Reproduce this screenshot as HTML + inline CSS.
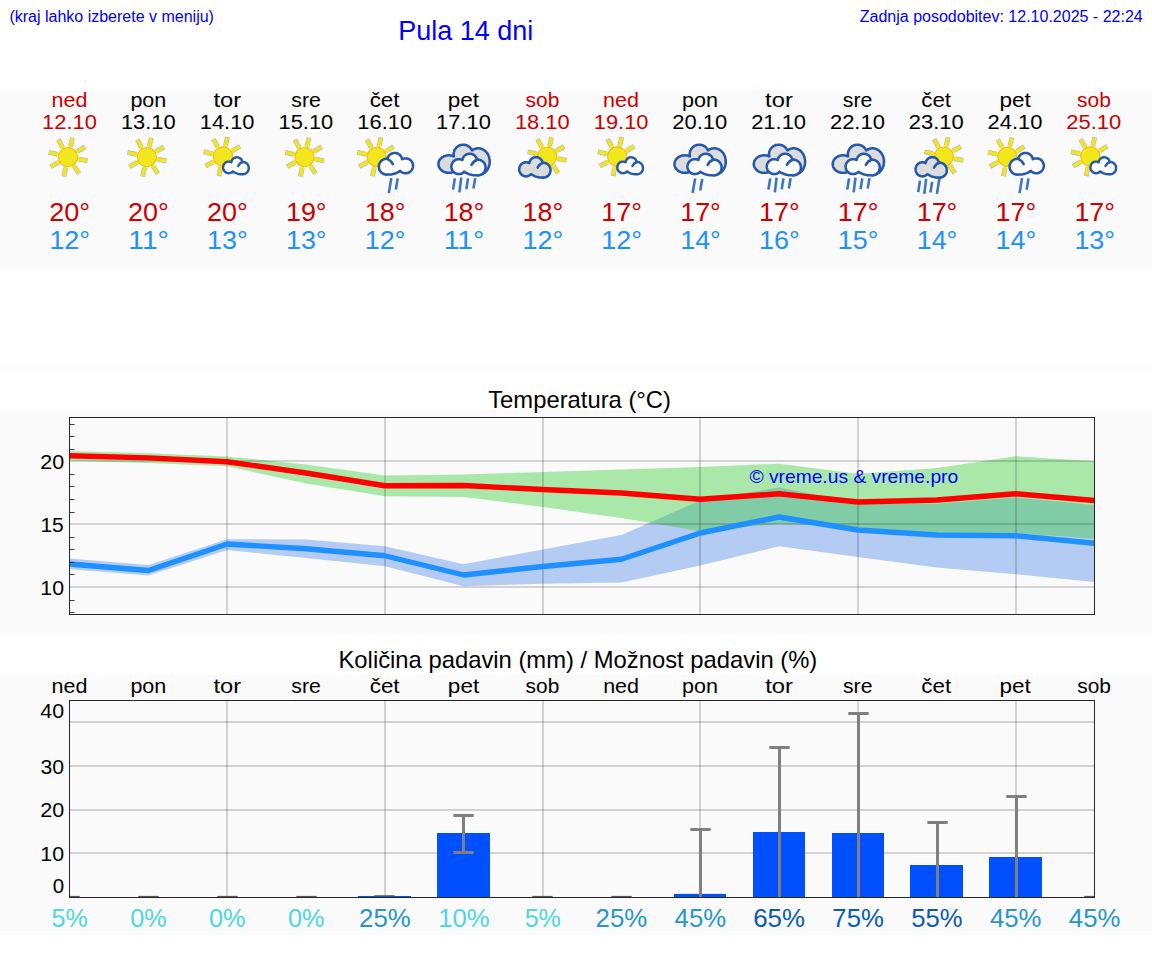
<!DOCTYPE html>
<html lang="sl"><head><meta charset="utf-8"><title>Pula 14 dni</title>
<style>
html,body{margin:0;padding:0;background:#fff;}
body{width:1152px;height:975px;overflow:hidden;font-family:"Liberation Sans",sans-serif;}
svg{display:block;position:absolute;left:0;top:0;}
</style></head><body>
<svg width="1152" height="975" viewBox="0 0 1152 975" font-family="Liberation Sans, sans-serif">
<rect x="0" y="0" width="1152" height="975" fill="#ffffff"/>
<rect x="0" y="90" width="1152" height="180" fill="#fafafa"/>
<rect x="0" y="365" width="1152" height="5" fill="#fafafa"/>
<rect x="0" y="410" width="1152" height="225" fill="#fafafa"/>
<rect x="0" y="675" width="1152" height="260" fill="#fafafa"/>
<text x="9.40" y="21.90" font-size="16" fill="#0000ff" text-anchor="start" >(kraj lahko izberete v meniju)</text>
<text x="465.70" y="40.00" font-size="27" fill="#0000ff" text-anchor="middle" >Pula 14 dni</text>
<text x="1142.70" y="21.90" font-size="16" fill="#0000ff" text-anchor="end" >Zadnja posodobitev: 12.10.2025 - 22:24</text>
<text x="51.53" y="107.00" font-size="20.65" fill="#cc0000" textLength="35.91" lengthAdjust="spacingAndGlyphs">ned</text>
<text x="42.14" y="129.20" font-size="20.65" fill="#cc0000" textLength="54.75" lengthAdjust="spacingAndGlyphs">12.10</text>
<line x1="78.80" y1="159.20" x2="87.53" y2="160.90" stroke="#70708c" stroke-opacity="0.5" stroke-width="4.8"/><line x1="74.15" y1="166.22" x2="79.13" y2="173.60" stroke="#70708c" stroke-opacity="0.5" stroke-width="4.8"/><line x1="65.71" y1="167.86" x2="63.86" y2="176.57" stroke="#70708c" stroke-opacity="0.5" stroke-width="4.8"/><line x1="58.38" y1="162.43" x2="50.60" y2="166.75" stroke="#70708c" stroke-opacity="0.5" stroke-width="4.8"/><line x1="57.33" y1="154.44" x2="48.69" y2="152.29" stroke="#70708c" stroke-opacity="0.5" stroke-width="4.8"/><line x1="62.67" y1="147.48" x2="58.35" y2="139.70" stroke="#70708c" stroke-opacity="0.5" stroke-width="4.8"/><line x1="70.47" y1="146.38" x2="72.48" y2="137.71" stroke="#70708c" stroke-opacity="0.5" stroke-width="4.8"/><line x1="77.43" y1="151.43" x2="85.06" y2="146.85" stroke="#70708c" stroke-opacity="0.5" stroke-width="4.8"/><line x1="76.83" y1="158.82" x2="87.04" y2="160.80" stroke="#f0e81c" stroke-width="3.5"/><line x1="73.03" y1="164.56" x2="78.85" y2="173.18" stroke="#f0e81c" stroke-width="3.5"/><line x1="66.13" y1="165.90" x2="63.97" y2="176.08" stroke="#f0e81c" stroke-width="3.5"/><line x1="60.13" y1="161.46" x2="51.03" y2="166.51" stroke="#f0e81c" stroke-width="3.5"/><line x1="59.27" y1="154.92" x2="49.18" y2="152.41" stroke="#f0e81c" stroke-width="3.5"/><line x1="63.64" y1="149.23" x2="58.59" y2="140.13" stroke="#f0e81c" stroke-width="3.5"/><line x1="70.02" y1="148.33" x2="72.36" y2="138.20" stroke="#f0e81c" stroke-width="3.5"/><line x1="75.71" y1="152.46" x2="84.63" y2="147.11" stroke="#f0e81c" stroke-width="3.5"/><circle cx="68.00" cy="157.10" r="9.6" fill="#f0e81c" stroke="#f7b52a" stroke-width="1.1"/>
<text x="49.25" y="221.00" font-size="25.97" fill="#cc0000" textLength="40.85" lengthAdjust="spacingAndGlyphs">20°</text>
<text x="49.42" y="249.00" font-size="25.97" fill="#1e90ff" textLength="40.67" lengthAdjust="spacingAndGlyphs">12°</text>
<text x="130.40" y="107.00" font-size="20.65" fill="#000000" textLength="35.92" lengthAdjust="spacingAndGlyphs">pon</text>
<text x="120.94" y="129.20" font-size="20.65" fill="#000000" textLength="54.75" lengthAdjust="spacingAndGlyphs">13.10</text>
<line x1="157.64" y1="159.20" x2="166.38" y2="160.90" stroke="#70708c" stroke-opacity="0.5" stroke-width="4.8"/><line x1="153.00" y1="166.22" x2="157.97" y2="173.60" stroke="#70708c" stroke-opacity="0.5" stroke-width="4.8"/><line x1="144.56" y1="167.86" x2="142.71" y2="176.57" stroke="#70708c" stroke-opacity="0.5" stroke-width="4.8"/><line x1="137.23" y1="162.43" x2="129.44" y2="166.75" stroke="#70708c" stroke-opacity="0.5" stroke-width="4.8"/><line x1="136.17" y1="154.44" x2="127.54" y2="152.29" stroke="#70708c" stroke-opacity="0.5" stroke-width="4.8"/><line x1="141.51" y1="147.48" x2="137.20" y2="139.70" stroke="#70708c" stroke-opacity="0.5" stroke-width="4.8"/><line x1="149.32" y1="146.38" x2="151.32" y2="137.71" stroke="#70708c" stroke-opacity="0.5" stroke-width="4.8"/><line x1="156.27" y1="151.43" x2="163.90" y2="146.85" stroke="#70708c" stroke-opacity="0.5" stroke-width="4.8"/><line x1="155.68" y1="158.82" x2="165.89" y2="160.80" stroke="#f0e81c" stroke-width="3.5"/><line x1="151.88" y1="164.56" x2="157.69" y2="173.18" stroke="#f0e81c" stroke-width="3.5"/><line x1="144.97" y1="165.90" x2="142.81" y2="176.08" stroke="#f0e81c" stroke-width="3.5"/><line x1="138.97" y1="161.46" x2="129.88" y2="166.51" stroke="#f0e81c" stroke-width="3.5"/><line x1="138.11" y1="154.92" x2="128.02" y2="152.41" stroke="#f0e81c" stroke-width="3.5"/><line x1="142.48" y1="149.23" x2="137.44" y2="140.13" stroke="#f0e81c" stroke-width="3.5"/><line x1="148.87" y1="148.33" x2="151.21" y2="138.20" stroke="#f0e81c" stroke-width="3.5"/><line x1="154.56" y1="152.46" x2="163.48" y2="147.11" stroke="#f0e81c" stroke-width="3.5"/><circle cx="146.85" cy="157.10" r="9.6" fill="#f0e81c" stroke="#f7b52a" stroke-width="1.1"/>
<text x="128.09" y="221.00" font-size="25.97" fill="#cc0000" textLength="40.85" lengthAdjust="spacingAndGlyphs">20°</text>
<text x="128.27" y="249.00" font-size="25.97" fill="#1e90ff" textLength="40.67" lengthAdjust="spacingAndGlyphs">11°</text>
<text x="213.50" y="107.00" font-size="20.65" fill="#000000" textLength="27.74" lengthAdjust="spacingAndGlyphs">tor</text>
<text x="199.74" y="129.20" font-size="20.65" fill="#000000" textLength="54.75" lengthAdjust="spacingAndGlyphs">14.10</text>
<line x1="233.79" y1="158.60" x2="242.53" y2="160.30" stroke="#70708c" stroke-opacity="0.5" stroke-width="4.8"/><line x1="229.14" y1="165.62" x2="234.12" y2="173.00" stroke="#70708c" stroke-opacity="0.5" stroke-width="4.8"/><line x1="220.71" y1="167.26" x2="218.85" y2="175.97" stroke="#70708c" stroke-opacity="0.5" stroke-width="4.8"/><line x1="213.37" y1="161.83" x2="205.59" y2="166.15" stroke="#70708c" stroke-opacity="0.5" stroke-width="4.8"/><line x1="212.32" y1="153.84" x2="203.68" y2="151.69" stroke="#70708c" stroke-opacity="0.5" stroke-width="4.8"/><line x1="217.66" y1="146.88" x2="213.34" y2="139.10" stroke="#70708c" stroke-opacity="0.5" stroke-width="4.8"/><line x1="225.47" y1="145.78" x2="227.47" y2="137.11" stroke="#70708c" stroke-opacity="0.5" stroke-width="4.8"/><line x1="232.42" y1="150.83" x2="240.05" y2="146.25" stroke="#70708c" stroke-opacity="0.5" stroke-width="4.8"/><line x1="231.83" y1="158.22" x2="242.04" y2="160.20" stroke="#f0e81c" stroke-width="3.5"/><line x1="228.03" y1="163.96" x2="233.84" y2="172.58" stroke="#f0e81c" stroke-width="3.5"/><line x1="221.12" y1="165.30" x2="218.96" y2="175.48" stroke="#f0e81c" stroke-width="3.5"/><line x1="215.12" y1="160.86" x2="206.02" y2="165.91" stroke="#f0e81c" stroke-width="3.5"/><line x1="214.26" y1="154.32" x2="204.17" y2="151.81" stroke="#f0e81c" stroke-width="3.5"/><line x1="218.63" y1="148.63" x2="213.59" y2="139.53" stroke="#f0e81c" stroke-width="3.5"/><line x1="225.02" y1="147.73" x2="227.36" y2="137.60" stroke="#f0e81c" stroke-width="3.5"/><line x1="230.71" y1="151.86" x2="239.62" y2="146.51" stroke="#f0e81c" stroke-width="3.5"/><circle cx="222.99" cy="156.50" r="9.6" fill="#f0e81c" stroke="#f7b52a" stroke-width="1.1"/>
<path d="M242.2,161.6 L242.1,161.3 L242.0,160.9 L241.9,160.6 L241.7,160.2 L241.5,159.9 L241.3,159.6 L241.1,159.3 L240.8,159.0 L240.5,158.8 L240.3,158.5 L240.0,158.3 L239.6,158.1 L239.3,157.9 L239.0,157.8 L238.6,157.6 L238.3,157.5 L237.9,157.4 L237.6,157.4 L237.2,157.3 L236.9,157.3 L236.5,157.3 L236.1,157.4 L235.8,157.4 L235.4,157.5 L235.1,157.6 L234.7,157.8 L234.4,157.9 L234.1,158.1 L233.7,158.3 L233.5,158.5 L233.2,158.8 L232.9,159.0 L232.7,159.3 L232.4,159.6 L232.2,159.9 L232.0,160.2 L231.8,160.6 L231.7,160.9 L231.6,161.3 L231.5,161.6 L231.4,162.0 L231.3,162.3 L231.2,162.2 L230.8,162.0 L230.5,161.9 L230.1,161.8 L229.8,161.7 L229.4,161.6 L229.1,161.6 L228.7,161.6 L228.3,161.6 L228.0,161.6 L227.6,161.7 L227.2,161.8 L226.9,161.9 L226.6,162.0 L226.2,162.2 L225.9,162.3 L225.6,162.5 L225.3,162.8 L225.0,163.0 L224.7,163.3 L224.5,163.5 L224.3,163.8 L224.0,164.1 L223.9,164.5 L223.7,164.8 L223.5,165.2 L223.4,165.5 L223.3,165.9 L223.2,166.2 L223.2,166.6 L223.1,167.0 L223.1,167.4 L223.1,167.8 L223.2,168.1 L223.2,168.5 L223.3,168.9 L223.4,169.2 L223.5,169.6 L223.7,169.9 L223.9,170.3 L224.0,170.6 L224.3,170.9 L224.5,171.2 L224.7,171.5 L225.0,171.7 L225.3,172.0 L225.6,172.2 L225.9,172.4 L226.2,172.6 L226.6,172.7 L226.9,172.9 L227.2,173.0 L227.6,173.1 L228.0,173.1 L228.3,173.2 L228.7,173.2 L229.1,173.2 L229.4,173.1 L229.8,173.1 L230.1,173.0 L230.5,172.9 L230.8,172.7 L231.2,172.6 L231.5,172.4 L231.8,172.2 L232.1,172.0 L232.4,171.7 L232.6,171.5 L232.7,171.4 L233.4,171.8 L234.2,172.2 L234.9,172.6 L235.7,173.0 L236.5,173.3 L237.3,173.6 L238.1,173.8 L238.9,174.0 L239.7,174.1 L240.5,174.2 L241.2,174.2 L242.0,174.2 L242.0,174.2 L242.1,174.2 L242.5,174.2 L242.8,174.2 L243.2,174.2 L243.6,174.2 L244.0,174.1 L244.4,174.0 L244.7,173.9 L245.1,173.8 L245.5,173.6 L245.8,173.4 L246.1,173.2 L246.4,173.0 L246.7,172.7 L247.0,172.4 L247.3,172.1 L247.5,171.8 L247.8,171.5 L248.0,171.2 L248.1,170.8 L248.3,170.4 L248.4,170.1 L248.6,169.7 L248.6,169.3 L248.7,168.9 L248.7,168.5 L248.8,168.1 L248.7,167.7 L248.7,167.3 L248.6,166.9 L248.6,166.5 L248.4,166.1 L248.3,165.7 L248.1,165.4 L248.0,165.0 L247.8,164.7 L247.5,164.3 L247.3,164.0 L247.0,163.7 L246.7,163.5 L246.4,163.2 L246.1,163.0 L245.8,162.8 L245.5,162.6 L245.1,162.4 L244.7,162.3 L244.4,162.1 L244.0,162.1 L243.6,162.0 L243.2,162.0 L242.8,161.9 L242.5,162.0 L242.3,162.0Z" fill="#ffffff" stroke="#2458ae" stroke-width="2.4" stroke-linejoin="round"/><path d="M242.5,162.0 Q239.7,163.0 238.2,166.1" fill="none" stroke="#2458ae" stroke-width="2.4" stroke-linecap="round"/>
<text x="206.94" y="221.00" font-size="25.97" fill="#cc0000" textLength="40.85" lengthAdjust="spacingAndGlyphs">20°</text>
<text x="207.11" y="249.00" font-size="25.97" fill="#1e90ff" textLength="40.67" lengthAdjust="spacingAndGlyphs">13°</text>
<text x="291.31" y="107.00" font-size="20.65" fill="#000000" textLength="29.53" lengthAdjust="spacingAndGlyphs">sre</text>
<text x="278.53" y="129.20" font-size="20.65" fill="#000000" textLength="54.75" lengthAdjust="spacingAndGlyphs">15.10</text>
<line x1="315.34" y1="159.20" x2="324.07" y2="160.90" stroke="#70708c" stroke-opacity="0.5" stroke-width="4.8"/><line x1="310.69" y1="166.22" x2="315.67" y2="173.60" stroke="#70708c" stroke-opacity="0.5" stroke-width="4.8"/><line x1="302.25" y1="167.86" x2="300.40" y2="176.57" stroke="#70708c" stroke-opacity="0.5" stroke-width="4.8"/><line x1="294.92" y1="162.43" x2="287.13" y2="166.75" stroke="#70708c" stroke-opacity="0.5" stroke-width="4.8"/><line x1="293.87" y1="154.44" x2="285.23" y2="152.29" stroke="#70708c" stroke-opacity="0.5" stroke-width="4.8"/><line x1="299.21" y1="147.48" x2="294.89" y2="139.70" stroke="#70708c" stroke-opacity="0.5" stroke-width="4.8"/><line x1="307.01" y1="146.38" x2="309.01" y2="137.71" stroke="#70708c" stroke-opacity="0.5" stroke-width="4.8"/><line x1="313.97" y1="151.43" x2="321.60" y2="146.85" stroke="#70708c" stroke-opacity="0.5" stroke-width="4.8"/><line x1="313.37" y1="158.82" x2="323.58" y2="160.80" stroke="#f0e81c" stroke-width="3.5"/><line x1="309.57" y1="164.56" x2="315.39" y2="173.18" stroke="#f0e81c" stroke-width="3.5"/><line x1="302.67" y1="165.90" x2="300.50" y2="176.08" stroke="#f0e81c" stroke-width="3.5"/><line x1="296.67" y1="161.46" x2="287.57" y2="166.51" stroke="#f0e81c" stroke-width="3.5"/><line x1="295.81" y1="154.92" x2="285.71" y2="152.41" stroke="#f0e81c" stroke-width="3.5"/><line x1="300.18" y1="149.23" x2="295.13" y2="140.13" stroke="#f0e81c" stroke-width="3.5"/><line x1="306.56" y1="148.33" x2="308.90" y2="138.20" stroke="#f0e81c" stroke-width="3.5"/><line x1="312.25" y1="152.46" x2="321.17" y2="147.11" stroke="#f0e81c" stroke-width="3.5"/><circle cx="304.54" cy="157.10" r="9.6" fill="#f0e81c" stroke="#f7b52a" stroke-width="1.1"/>
<text x="285.96" y="221.00" font-size="25.97" fill="#cc0000" textLength="40.67" lengthAdjust="spacingAndGlyphs">19°</text>
<text x="285.96" y="249.00" font-size="25.97" fill="#1e90ff" textLength="40.67" lengthAdjust="spacingAndGlyphs">13°</text>
<text x="369.67" y="107.00" font-size="20.65" fill="#000000" textLength="29.85" lengthAdjust="spacingAndGlyphs">čet</text>
<text x="357.33" y="129.20" font-size="20.65" fill="#000000" textLength="54.75" lengthAdjust="spacingAndGlyphs">16.10</text>
<line x1="387.38" y1="159.00" x2="396.12" y2="160.70" stroke="#70708c" stroke-opacity="0.5" stroke-width="4.8"/><line x1="382.74" y1="166.02" x2="387.71" y2="173.40" stroke="#70708c" stroke-opacity="0.5" stroke-width="4.8"/><line x1="374.30" y1="167.66" x2="372.45" y2="176.37" stroke="#70708c" stroke-opacity="0.5" stroke-width="4.8"/><line x1="366.96" y1="162.23" x2="359.18" y2="166.55" stroke="#70708c" stroke-opacity="0.5" stroke-width="4.8"/><line x1="365.91" y1="154.24" x2="357.28" y2="152.09" stroke="#70708c" stroke-opacity="0.5" stroke-width="4.8"/><line x1="371.25" y1="147.28" x2="366.94" y2="139.50" stroke="#70708c" stroke-opacity="0.5" stroke-width="4.8"/><line x1="379.06" y1="146.18" x2="381.06" y2="137.51" stroke="#70708c" stroke-opacity="0.5" stroke-width="4.8"/><line x1="386.01" y1="151.23" x2="393.64" y2="146.65" stroke="#70708c" stroke-opacity="0.5" stroke-width="4.8"/><line x1="385.42" y1="158.62" x2="395.63" y2="160.60" stroke="#f0e81c" stroke-width="3.5"/><line x1="381.62" y1="164.36" x2="387.43" y2="172.98" stroke="#f0e81c" stroke-width="3.5"/><line x1="374.71" y1="165.70" x2="372.55" y2="175.88" stroke="#f0e81c" stroke-width="3.5"/><line x1="368.71" y1="161.26" x2="359.62" y2="166.31" stroke="#f0e81c" stroke-width="3.5"/><line x1="367.85" y1="154.72" x2="357.76" y2="152.21" stroke="#f0e81c" stroke-width="3.5"/><line x1="372.22" y1="149.03" x2="367.18" y2="139.93" stroke="#f0e81c" stroke-width="3.5"/><line x1="378.61" y1="148.13" x2="380.95" y2="138.00" stroke="#f0e81c" stroke-width="3.5"/><line x1="384.30" y1="152.26" x2="393.21" y2="146.91" stroke="#f0e81c" stroke-width="3.5"/><circle cx="376.58" cy="156.90" r="9.6" fill="#f0e81c" stroke="#f7b52a" stroke-width="1.1"/>
<path d="M387.5,158.5 L387.6,158.0 L387.8,157.5 L388.0,157.1 L388.3,156.7 L388.5,156.2 L388.8,155.8 L389.1,155.5 L389.4,155.1 L389.8,154.8 L390.2,154.5 L390.6,154.2 L391.0,153.9 L391.4,153.7 L391.9,153.5 L392.3,153.3 L392.8,153.2 L393.3,153.1 L393.7,153.0 L394.2,152.9 L394.7,152.9 L395.2,152.9 L395.7,153.0 L396.2,153.1 L396.6,153.2 L397.1,153.3 L397.6,153.5 L398.0,153.7 L398.4,153.9 L398.8,154.2 L399.2,154.5 L399.6,154.8 L400.0,155.1 L400.3,155.5 L400.6,155.8 L400.9,156.2 L401.2,156.7 L401.4,157.1 L401.6,157.5 L401.8,158.0 L401.9,158.5 L402.0,158.9 L402.1,159.2 L402.3,159.1 L402.7,158.9 L403.2,158.7 L403.7,158.6 L404.1,158.5 L404.6,158.4 L405.1,158.4 L405.6,158.4 L406.1,158.4 L406.6,158.4 L407.0,158.5 L407.5,158.6 L408.0,158.7 L408.4,158.9 L408.9,159.1 L409.3,159.3 L409.7,159.6 L410.1,159.9 L410.5,160.2 L410.9,160.5 L411.2,160.9 L411.5,161.3 L411.8,161.7 L412.0,162.1 L412.3,162.5 L412.5,162.9 L412.6,163.4 L412.8,163.9 L412.9,164.3 L413.0,164.8 L413.0,165.3 L413.0,165.8 L413.0,166.3 L413.0,166.8 L412.9,167.3 L412.8,167.7 L412.6,168.2 L412.5,168.7 L412.3,169.1 L412.0,169.5 L411.8,169.9 L411.5,170.3 L411.2,170.7 L410.9,171.1 L410.5,171.4 L410.1,171.7 L409.7,172.0 L409.3,172.3 L408.9,172.5 L408.4,172.7 L408.0,172.9 L407.5,173.0 L407.0,173.1 L406.6,173.2 L406.1,173.2 L405.6,173.2 L405.1,173.2 L404.6,173.2 L404.1,173.1 L403.7,173.0 L403.2,172.9 L402.7,172.7 L402.3,172.5 L401.9,172.3 L401.4,172.0 L401.0,171.7 L400.7,171.4 L400.3,171.1 L400.2,170.9 L399.3,171.5 L398.3,172.0 L397.2,172.6 L396.2,173.0 L395.2,173.4 L394.1,173.7 L393.1,174.0 L392.0,174.3 L390.9,174.4 L389.9,174.5 L388.8,174.5 L387.8,174.5 L387.8,174.5 L387.7,174.5 L387.2,174.6 L386.7,174.6 L386.2,174.6 L385.7,174.5 L385.2,174.4 L384.7,174.3 L384.2,174.2 L383.7,174.0 L383.2,173.8 L382.8,173.5 L382.3,173.3 L381.9,173.0 L381.5,172.6 L381.1,172.3 L380.8,171.9 L380.5,171.5 L380.2,171.1 L379.9,170.6 L379.6,170.2 L379.4,169.7 L379.3,169.2 L379.1,168.7 L379.0,168.2 L378.9,167.7 L378.9,167.2 L378.8,166.7 L378.9,166.2 L378.9,165.7 L379.0,165.2 L379.1,164.7 L379.3,164.2 L379.4,163.7 L379.6,163.2 L379.9,162.8 L380.2,162.3 L380.5,161.9 L380.8,161.5 L381.1,161.1 L381.5,160.8 L381.9,160.5 L382.3,160.2 L382.8,159.9 L383.2,159.6 L383.7,159.4 L384.2,159.2 L384.7,159.1 L385.2,159.0 L385.7,158.9 L386.2,158.8 L386.7,158.8 L387.2,158.8 L387.4,158.9Z" fill="#ffffff" stroke="#2458ae" stroke-width="2.55" stroke-linejoin="round"/><path d="M387.1,158.9 Q390.9,160.2 392.9,164.1" fill="none" stroke="#2458ae" stroke-width="2.55" stroke-linecap="round"/>
<line x1="391.28" y1="178.10" x2="388.78" y2="193.10" stroke="#3f74c4" stroke-width="2.6"/>
<line x1="397.68" y1="178.40" x2="395.88" y2="189.60" stroke="#3f74c4" stroke-width="2.6"/>
<text x="364.81" y="221.00" font-size="25.97" fill="#cc0000" textLength="40.67" lengthAdjust="spacingAndGlyphs">18°</text>
<text x="364.81" y="249.00" font-size="25.97" fill="#1e90ff" textLength="40.67" lengthAdjust="spacingAndGlyphs">12°</text>
<text x="447.83" y="107.00" font-size="20.65" fill="#000000" textLength="31.31" lengthAdjust="spacingAndGlyphs">pet</text>
<text x="436.12" y="129.20" font-size="20.65" fill="#000000" textLength="54.75" lengthAdjust="spacingAndGlyphs">17.10</text>
<path d="M471.5,149.5 L471.2,149.0 L470.8,148.5 L470.4,148.0 L470.0,147.5 L469.6,147.1 L469.1,146.7 L468.6,146.3 L468.0,146.0 L467.5,145.7 L466.9,145.4 L466.3,145.2 L465.7,145.0 L465.1,144.9 L464.5,144.8 L463.9,144.7 L463.2,144.7 L462.6,144.7 L462.0,144.8 L461.4,144.9 L460.7,145.0 L460.1,145.2 L459.6,145.4 L459.0,145.7 L458.4,146.0 L457.9,146.3 L457.4,146.7 L456.9,147.1 L456.4,147.5 L456.0,148.0 L455.6,148.5 L455.2,149.0 L454.9,149.5 L454.6,150.1 L454.4,150.6 L454.1,151.2 L454.0,151.8 L453.8,152.4 L453.7,153.0 L453.7,153.7 L453.6,154.3 L453.7,154.9 L453.7,155.6 L453.8,156.2 L453.9,156.4 L453.4,156.2 L452.8,156.0 L452.2,155.8 L451.5,155.6 L450.9,155.5 L450.2,155.4 L449.5,155.3 L448.8,155.3 L448.2,155.3 L447.5,155.4 L446.8,155.5 L446.1,155.6 L445.5,155.8 L444.9,156.0 L444.2,156.2 L443.6,156.5 L443.1,156.8 L442.5,157.1 L442.0,157.5 L441.5,157.9 L441.0,158.3 L440.6,158.7 L440.2,159.2 L439.8,159.7 L439.5,160.2 L439.2,160.7 L439.0,161.3 L438.8,161.8 L438.6,162.4 L438.5,162.9 L438.5,163.5 L438.4,164.1 L438.5,164.6 L438.5,165.2 L438.6,165.8 L438.8,166.3 L439.0,166.9 L439.2,167.4 L439.5,167.9 L439.8,168.4 L440.2,168.9 L440.6,169.4 L441.0,169.8 L441.5,170.3 L442.0,170.6 L442.5,171.0 L443.1,171.3 L443.6,171.6 L444.2,171.9 L444.9,172.2 L445.5,172.4 L446.1,172.5 L446.8,172.7 L447.5,172.7 L448.2,172.8 L448.8,172.8 L449.5,172.8 L450.2,172.7 L450.9,172.7 L451.5,172.5 L452.2,172.4 L452.8,172.2 L453.2,172.0 L471.1,172.0 L471.2,172.2 L471.8,172.7 L472.5,173.1 L473.1,173.5 L473.8,173.9 L474.5,174.2 L475.3,174.4 L476.0,174.6 L476.7,174.8 L477.5,174.9 L478.2,174.9 L479.0,174.9 L479.7,174.8 L480.5,174.6 L481.2,174.4 L481.9,174.2 L482.6,173.9 L483.3,173.5 L484.0,173.1 L484.6,172.7 L485.2,172.2 L485.8,171.6 L486.4,171.0 L486.9,170.4 L487.4,169.7 L487.8,169.0 L488.2,168.2 L488.5,167.5 L488.9,166.7 L489.1,165.9 L489.3,165.0 L489.5,164.2 L489.6,163.3 L489.7,162.5 L489.7,161.6 L489.7,160.7 L489.6,159.9 L489.5,159.0 L489.3,158.2 L489.1,157.3 L488.9,156.5 L488.5,155.7 L488.2,154.9 L487.8,154.2 L487.4,153.5 L486.9,152.8 L486.4,152.2 L485.8,151.6 L485.2,151.0 L484.6,150.5 L484.0,150.1 L483.3,149.7 L482.6,149.3 L481.9,149.0 L481.2,148.8 L480.5,148.6 L479.7,148.4 L479.0,148.3 L478.2,148.3 L477.5,148.3 L476.7,148.4 L476.0,148.6 L475.3,148.8 L474.5,149.0 L473.8,149.3 L473.1,149.7 L472.5,150.1 L472.0,150.4 L471.8,150.1Z" fill="#dcdcdc" stroke="#2458ae" stroke-width="2.55" stroke-linejoin="round"/>
<path d="M476.9,159.3 L476.8,158.8 L476.6,158.3 L476.4,157.9 L476.2,157.5 L475.9,157.0 L475.6,156.6 L475.3,156.3 L475.0,155.9 L474.6,155.6 L474.2,155.3 L473.8,155.0 L473.4,154.7 L473.0,154.5 L472.6,154.3 L472.1,154.1 L471.6,154.0 L471.2,153.9 L470.7,153.8 L470.2,153.7 L469.7,153.7 L469.2,153.7 L468.7,153.8 L468.3,153.9 L467.8,154.0 L467.3,154.1 L466.9,154.3 L466.4,154.5 L466.0,154.7 L465.6,155.0 L465.2,155.3 L464.8,155.6 L464.4,155.9 L464.1,156.3 L463.8,156.6 L463.5,157.0 L463.3,157.5 L463.0,157.9 L462.8,158.3 L462.7,158.8 L462.5,159.3 L462.4,159.7 L462.4,160.0 L462.1,159.9 L461.7,159.7 L461.2,159.5 L460.8,159.4 L460.3,159.3 L459.8,159.2 L459.3,159.2 L458.8,159.2 L458.3,159.2 L457.9,159.2 L457.4,159.3 L456.9,159.4 L456.4,159.5 L456.0,159.7 L455.5,159.9 L455.1,160.1 L454.7,160.4 L454.3,160.7 L453.9,161.0 L453.6,161.3 L453.2,161.7 L452.9,162.1 L452.6,162.5 L452.4,162.9 L452.1,163.3 L451.9,163.7 L451.8,164.2 L451.6,164.7 L451.5,165.1 L451.4,165.6 L451.4,166.1 L451.4,166.6 L451.4,167.1 L451.4,167.6 L451.5,168.1 L451.6,168.5 L451.8,169.0 L451.9,169.5 L452.1,169.9 L452.4,170.3 L452.6,170.7 L452.9,171.1 L453.2,171.5 L453.6,171.9 L453.9,172.2 L454.3,172.5 L454.7,172.8 L455.1,173.1 L455.5,173.3 L456.0,173.5 L456.4,173.7 L456.9,173.8 L457.4,173.9 L457.9,174.0 L458.3,174.0 L458.8,174.1 L459.3,174.0 L459.8,174.0 L460.3,173.9 L460.8,173.8 L461.2,173.7 L461.7,173.5 L462.1,173.3 L462.6,173.1 L463.0,172.8 L463.4,172.5 L463.7,172.2 L464.1,171.9 L464.2,171.7 L465.1,172.3 L466.1,172.8 L467.2,173.4 L468.2,173.8 L469.3,174.2 L470.3,174.5 L471.4,174.8 L472.4,175.1 L473.5,175.2 L474.5,175.3 L475.6,175.3 L476.6,175.3 L476.6,175.3 L476.7,175.3 L477.2,175.4 L477.7,175.4 L478.2,175.4 L478.7,175.3 L479.2,175.2 L479.7,175.1 L480.2,175.0 L480.7,174.8 L481.2,174.6 L481.6,174.3 L482.1,174.1 L482.5,173.8 L482.9,173.4 L483.3,173.1 L483.6,172.7 L484.0,172.3 L484.3,171.9 L484.5,171.4 L484.8,171.0 L485.0,170.5 L485.2,170.0 L485.3,169.5 L485.4,169.0 L485.5,168.5 L485.6,168.0 L485.6,167.5 L485.6,167.0 L485.5,166.5 L485.4,166.0 L485.3,165.5 L485.2,165.0 L485.0,164.5 L484.8,164.0 L484.5,163.6 L484.3,163.1 L484.0,162.7 L483.6,162.3 L483.3,161.9 L482.9,161.6 L482.5,161.3 L482.1,161.0 L481.6,160.7 L481.2,160.4 L480.7,160.2 L480.2,160.0 L479.7,159.9 L479.2,159.8 L478.7,159.7 L478.2,159.6 L477.7,159.6 L477.2,159.6 L477.0,159.7Z" fill="#ffffff" stroke="#2458ae" stroke-width="2.55" stroke-linejoin="round"/><path d="M477.3,159.8 Q473.5,161.0 471.5,164.9" fill="none" stroke="#2458ae" stroke-width="2.55" stroke-linecap="round"/>
<line x1="454.83" y1="178.40" x2="453.03" y2="189.60" stroke="#3f74c4" stroke-width="2.6"/>
<line x1="461.23" y1="177.70" x2="459.43" y2="192.40" stroke="#3f74c4" stroke-width="2.6"/>
<line x1="468.03" y1="178.40" x2="466.33" y2="189.20" stroke="#3f74c4" stroke-width="2.6"/>
<line x1="475.23" y1="178.10" x2="473.43" y2="188.50" stroke="#3f74c4" stroke-width="2.6"/>
<text x="443.65" y="221.00" font-size="25.97" fill="#cc0000" textLength="40.67" lengthAdjust="spacingAndGlyphs">18°</text>
<text x="443.65" y="249.00" font-size="25.97" fill="#1e90ff" textLength="40.67" lengthAdjust="spacingAndGlyphs">11°</text>
<text x="525.57" y="107.00" font-size="20.65" fill="#cc0000" textLength="33.70" lengthAdjust="spacingAndGlyphs">sob</text>
<text x="514.92" y="129.20" font-size="20.65" fill="#cc0000" textLength="54.75" lengthAdjust="spacingAndGlyphs">18.10</text>
<line x1="557.87" y1="158.70" x2="566.61" y2="160.40" stroke="#70708c" stroke-opacity="0.5" stroke-width="4.8"/><line x1="553.23" y1="165.72" x2="558.20" y2="173.10" stroke="#70708c" stroke-opacity="0.5" stroke-width="4.8"/><line x1="544.79" y1="167.36" x2="542.94" y2="176.07" stroke="#70708c" stroke-opacity="0.5" stroke-width="4.8"/><line x1="537.46" y1="161.93" x2="529.67" y2="166.25" stroke="#70708c" stroke-opacity="0.5" stroke-width="4.8"/><line x1="536.40" y1="153.94" x2="527.77" y2="151.79" stroke="#70708c" stroke-opacity="0.5" stroke-width="4.8"/><line x1="541.74" y1="146.98" x2="537.43" y2="139.20" stroke="#70708c" stroke-opacity="0.5" stroke-width="4.8"/><line x1="549.55" y1="145.88" x2="551.55" y2="137.21" stroke="#70708c" stroke-opacity="0.5" stroke-width="4.8"/><line x1="556.51" y1="150.93" x2="564.13" y2="146.35" stroke="#70708c" stroke-opacity="0.5" stroke-width="4.8"/><line x1="555.91" y1="158.32" x2="566.12" y2="160.30" stroke="#f0e81c" stroke-width="3.5"/><line x1="552.11" y1="164.06" x2="557.93" y2="172.68" stroke="#f0e81c" stroke-width="3.5"/><line x1="545.21" y1="165.40" x2="543.04" y2="175.58" stroke="#f0e81c" stroke-width="3.5"/><line x1="539.21" y1="160.96" x2="530.11" y2="166.01" stroke="#f0e81c" stroke-width="3.5"/><line x1="538.34" y1="154.42" x2="528.25" y2="151.91" stroke="#f0e81c" stroke-width="3.5"/><line x1="542.71" y1="148.73" x2="537.67" y2="139.63" stroke="#f0e81c" stroke-width="3.5"/><line x1="549.10" y1="147.83" x2="551.44" y2="137.70" stroke="#f0e81c" stroke-width="3.5"/><line x1="554.79" y1="151.96" x2="563.71" y2="146.61" stroke="#f0e81c" stroke-width="3.5"/><circle cx="547.08" cy="156.60" r="9.6" fill="#f0e81c" stroke="#f7b52a" stroke-width="1.1"/>
<path d="M542.6,162.4 L542.4,161.9 L542.3,161.5 L542.1,161.1 L541.9,160.7 L541.7,160.3 L541.4,159.9 L541.1,159.6 L540.8,159.2 L540.5,158.9 L540.1,158.6 L539.8,158.3 L539.4,158.1 L539.0,157.9 L538.6,157.7 L538.2,157.5 L537.7,157.4 L537.3,157.3 L536.9,157.2 L536.4,157.2 L536.0,157.2 L535.5,157.2 L535.1,157.2 L534.7,157.3 L534.2,157.4 L533.8,157.5 L533.4,157.7 L533.0,157.9 L532.6,158.1 L532.2,158.3 L531.8,158.6 L531.5,158.9 L531.2,159.2 L530.9,159.6 L530.6,159.9 L530.3,160.3 L530.1,160.7 L529.9,161.1 L529.7,161.5 L529.5,161.9 L529.4,162.4 L529.3,162.8 L529.3,163.1 L529.0,163.0 L528.6,162.8 L528.2,162.7 L527.8,162.5 L527.4,162.4 L526.9,162.3 L526.5,162.3 L526.0,162.3 L525.6,162.3 L525.1,162.3 L524.7,162.4 L524.3,162.5 L523.8,162.7 L523.4,162.8 L523.0,163.0 L522.6,163.2 L522.2,163.5 L521.9,163.7 L521.5,164.0 L521.2,164.3 L520.9,164.7 L520.6,165.0 L520.4,165.4 L520.1,165.8 L519.9,166.2 L519.7,166.6 L519.6,167.1 L519.4,167.5 L519.3,167.9 L519.3,168.4 L519.2,168.9 L519.2,169.3 L519.2,169.8 L519.3,170.2 L519.3,170.7 L519.4,171.1 L519.6,171.6 L519.7,172.0 L519.9,172.4 L520.1,172.8 L520.4,173.2 L520.6,173.6 L520.9,174.0 L521.2,174.3 L521.5,174.6 L521.9,174.9 L522.2,175.2 L522.6,175.4 L523.0,175.6 L523.4,175.8 L523.8,176.0 L524.3,176.1 L524.7,176.2 L525.1,176.3 L525.6,176.3 L526.0,176.4 L526.5,176.3 L526.9,176.3 L527.4,176.2 L527.8,176.1 L528.2,176.0 L528.6,175.8 L529.0,175.6 L529.4,175.4 L529.8,175.2 L530.2,174.9 L530.5,174.6 L530.8,174.3 L531.0,174.2 L531.8,174.7 L532.7,175.2 L533.7,175.7 L534.6,176.1 L535.6,176.5 L536.5,176.8 L537.5,177.1 L538.5,177.3 L539.4,177.5 L540.4,177.6 L541.3,177.6 L542.3,177.5 L542.3,177.5 L542.4,177.6 L542.8,177.6 L543.3,177.6 L543.8,177.6 L544.2,177.6 L544.7,177.5 L545.2,177.4 L545.6,177.2 L546.1,177.1 L546.5,176.9 L546.9,176.6 L547.3,176.4 L547.7,176.1 L548.0,175.8 L548.4,175.4 L548.7,175.1 L549.0,174.7 L549.3,174.3 L549.5,173.9 L549.8,173.5 L550.0,173.0 L550.1,172.6 L550.3,172.1 L550.4,171.6 L550.4,171.2 L550.5,170.7 L550.5,170.2 L550.5,169.7 L550.4,169.2 L550.4,168.7 L550.3,168.3 L550.1,167.8 L550.0,167.3 L549.8,166.9 L549.5,166.5 L549.3,166.0 L549.0,165.6 L548.7,165.3 L548.4,164.9 L548.0,164.6 L547.7,164.3 L547.3,164.0 L546.9,163.7 L546.5,163.5 L546.1,163.3 L545.6,163.1 L545.2,163.0 L544.7,162.9 L544.2,162.8 L543.8,162.7 L543.3,162.7 L542.8,162.7 L542.7,162.8Z" fill="#dcdcdc" stroke="#2458ae" stroke-width="2.55" stroke-linejoin="round"/><path d="M542.9,162.8 Q539.5,164.0 537.6,167.7" fill="none" stroke="#2458ae" stroke-width="2.55" stroke-linecap="round"/>
<text x="522.50" y="221.00" font-size="25.97" fill="#cc0000" textLength="40.67" lengthAdjust="spacingAndGlyphs">18°</text>
<text x="522.50" y="249.00" font-size="25.97" fill="#1e90ff" textLength="40.67" lengthAdjust="spacingAndGlyphs">12°</text>
<text x="603.10" y="107.00" font-size="20.65" fill="#cc0000" textLength="35.91" lengthAdjust="spacingAndGlyphs">ned</text>
<text x="593.72" y="129.20" font-size="20.65" fill="#cc0000" textLength="54.75" lengthAdjust="spacingAndGlyphs">19.10</text>
<line x1="628.02" y1="158.60" x2="636.76" y2="160.30" stroke="#70708c" stroke-opacity="0.5" stroke-width="4.8"/><line x1="623.37" y1="165.62" x2="628.35" y2="173.00" stroke="#70708c" stroke-opacity="0.5" stroke-width="4.8"/><line x1="614.94" y1="167.26" x2="613.09" y2="175.97" stroke="#70708c" stroke-opacity="0.5" stroke-width="4.8"/><line x1="607.60" y1="161.83" x2="599.82" y2="166.15" stroke="#70708c" stroke-opacity="0.5" stroke-width="4.8"/><line x1="606.55" y1="153.84" x2="597.91" y2="151.69" stroke="#70708c" stroke-opacity="0.5" stroke-width="4.8"/><line x1="611.89" y1="146.88" x2="607.58" y2="139.10" stroke="#70708c" stroke-opacity="0.5" stroke-width="4.8"/><line x1="619.70" y1="145.78" x2="621.70" y2="137.11" stroke="#70708c" stroke-opacity="0.5" stroke-width="4.8"/><line x1="626.65" y1="150.83" x2="634.28" y2="146.25" stroke="#70708c" stroke-opacity="0.5" stroke-width="4.8"/><line x1="626.06" y1="158.22" x2="636.27" y2="160.20" stroke="#f0e81c" stroke-width="3.5"/><line x1="622.26" y1="163.96" x2="628.07" y2="172.58" stroke="#f0e81c" stroke-width="3.5"/><line x1="615.35" y1="165.30" x2="613.19" y2="175.48" stroke="#f0e81c" stroke-width="3.5"/><line x1="609.35" y1="160.86" x2="600.26" y2="165.91" stroke="#f0e81c" stroke-width="3.5"/><line x1="608.49" y1="154.32" x2="598.40" y2="151.81" stroke="#f0e81c" stroke-width="3.5"/><line x1="612.86" y1="148.63" x2="607.82" y2="139.53" stroke="#f0e81c" stroke-width="3.5"/><line x1="619.25" y1="147.73" x2="621.59" y2="137.60" stroke="#f0e81c" stroke-width="3.5"/><line x1="624.94" y1="151.86" x2="633.85" y2="146.51" stroke="#f0e81c" stroke-width="3.5"/><circle cx="617.22" cy="156.50" r="9.6" fill="#f0e81c" stroke="#f7b52a" stroke-width="1.1"/>
<path d="M636.5,161.6 L636.4,161.3 L636.2,160.9 L636.1,160.6 L635.9,160.2 L635.7,159.9 L635.5,159.6 L635.3,159.3 L635.0,159.0 L634.8,158.8 L634.5,158.5 L634.2,158.3 L633.9,158.1 L633.6,157.9 L633.2,157.8 L632.9,157.6 L632.5,157.5 L632.2,157.4 L631.8,157.4 L631.4,157.3 L631.1,157.3 L630.7,157.3 L630.4,157.4 L630.0,157.4 L629.6,157.5 L629.3,157.6 L628.9,157.8 L628.6,157.9 L628.3,158.1 L628.0,158.3 L627.7,158.5 L627.4,158.8 L627.1,159.0 L626.9,159.3 L626.7,159.6 L626.4,159.9 L626.2,160.2 L626.1,160.6 L625.9,160.9 L625.8,161.3 L625.7,161.6 L625.6,162.0 L625.6,162.3 L625.4,162.2 L625.1,162.0 L624.7,161.9 L624.4,161.8 L624.0,161.7 L623.7,161.6 L623.3,161.6 L622.9,161.6 L622.6,161.6 L622.2,161.6 L621.8,161.7 L621.5,161.8 L621.1,161.9 L620.8,162.0 L620.5,162.2 L620.1,162.3 L619.8,162.5 L619.5,162.8 L619.2,163.0 L619.0,163.3 L618.7,163.5 L618.5,163.8 L618.3,164.1 L618.1,164.5 L617.9,164.8 L617.8,165.2 L617.6,165.5 L617.5,165.9 L617.4,166.2 L617.4,166.6 L617.3,167.0 L617.3,167.4 L617.3,167.8 L617.4,168.1 L617.4,168.5 L617.5,168.9 L617.6,169.2 L617.8,169.6 L617.9,169.9 L618.1,170.3 L618.3,170.6 L618.5,170.9 L618.7,171.2 L619.0,171.5 L619.2,171.7 L619.5,172.0 L619.8,172.2 L620.1,172.4 L620.5,172.6 L620.8,172.7 L621.1,172.9 L621.5,173.0 L621.8,173.1 L622.2,173.1 L622.6,173.2 L622.9,173.2 L623.3,173.2 L623.7,173.1 L624.0,173.1 L624.4,173.0 L624.7,172.9 L625.1,172.7 L625.4,172.6 L625.7,172.4 L626.0,172.2 L626.3,172.0 L626.6,171.7 L626.9,171.5 L627.0,171.4 L627.7,171.8 L628.4,172.2 L629.2,172.6 L630.0,173.0 L630.7,173.3 L631.5,173.6 L632.3,173.8 L633.1,174.0 L633.9,174.1 L634.7,174.2 L635.5,174.2 L636.2,174.2 L636.2,174.2 L636.3,174.2 L636.7,174.2 L637.1,174.2 L637.5,174.2 L637.8,174.2 L638.2,174.1 L638.6,174.0 L639.0,173.9 L639.3,173.8 L639.7,173.6 L640.0,173.4 L640.4,173.2 L640.7,173.0 L641.0,172.7 L641.3,172.4 L641.5,172.1 L641.8,171.8 L642.0,171.5 L642.2,171.2 L642.4,170.8 L642.5,170.4 L642.7,170.1 L642.8,169.7 L642.9,169.3 L642.9,168.9 L643.0,168.5 L643.0,168.1 L643.0,167.7 L642.9,167.3 L642.9,166.9 L642.8,166.5 L642.7,166.1 L642.5,165.7 L642.4,165.4 L642.2,165.0 L642.0,164.7 L641.8,164.3 L641.5,164.0 L641.3,163.7 L641.0,163.5 L640.7,163.2 L640.4,163.0 L640.0,162.8 L639.7,162.6 L639.3,162.4 L639.0,162.3 L638.6,162.1 L638.2,162.1 L637.8,162.0 L637.5,162.0 L637.1,161.9 L636.7,162.0 L636.6,162.0Z" fill="#ffffff" stroke="#2458ae" stroke-width="2.4" stroke-linejoin="round"/><path d="M636.8,162.0 Q633.9,163.0 632.4,166.1" fill="none" stroke="#2458ae" stroke-width="2.4" stroke-linecap="round"/>
<text x="601.34" y="221.00" font-size="25.97" fill="#cc0000" textLength="40.67" lengthAdjust="spacingAndGlyphs">17°</text>
<text x="601.34" y="249.00" font-size="25.97" fill="#1e90ff" textLength="40.67" lengthAdjust="spacingAndGlyphs">12°</text>
<text x="681.97" y="107.00" font-size="20.65" fill="#000000" textLength="35.92" lengthAdjust="spacingAndGlyphs">pon</text>
<text x="672.36" y="129.20" font-size="20.65" fill="#000000" textLength="54.90" lengthAdjust="spacingAndGlyphs">20.10</text>
<path d="M707.6,149.5 L707.3,149.0 L706.9,148.5 L706.5,148.0 L706.1,147.5 L705.6,147.1 L705.1,146.7 L704.6,146.3 L704.1,146.0 L703.5,145.7 L702.9,145.4 L702.4,145.2 L701.8,145.0 L701.1,144.9 L700.5,144.8 L699.9,144.7 L699.3,144.7 L698.6,144.7 L698.0,144.8 L697.4,144.9 L696.8,145.0 L696.2,145.2 L695.6,145.4 L695.0,145.7 L694.5,146.0 L693.9,146.3 L693.4,146.7 L692.9,147.1 L692.5,147.5 L692.1,148.0 L691.7,148.5 L691.3,149.0 L691.0,149.5 L690.7,150.1 L690.4,150.6 L690.2,151.2 L690.0,151.8 L689.9,152.4 L689.8,153.0 L689.7,153.7 L689.7,154.3 L689.7,154.9 L689.8,155.6 L689.9,156.2 L689.9,156.4 L689.5,156.2 L688.8,156.0 L688.2,155.8 L687.6,155.6 L686.9,155.5 L686.2,155.4 L685.5,155.3 L684.9,155.3 L684.2,155.3 L683.5,155.4 L682.8,155.5 L682.2,155.6 L681.5,155.8 L680.9,156.0 L680.3,156.2 L679.7,156.5 L679.1,156.8 L678.5,157.1 L678.0,157.5 L677.5,157.9 L677.1,158.3 L676.6,158.7 L676.2,159.2 L675.9,159.7 L675.5,160.2 L675.3,160.7 L675.0,161.3 L674.8,161.8 L674.7,162.4 L674.6,162.9 L674.5,163.5 L674.5,164.1 L674.5,164.6 L674.6,165.2 L674.7,165.8 L674.8,166.3 L675.0,166.9 L675.3,167.4 L675.5,167.9 L675.9,168.4 L676.2,168.9 L676.6,169.4 L677.1,169.8 L677.5,170.3 L678.0,170.6 L678.5,171.0 L679.1,171.3 L679.7,171.6 L680.3,171.9 L680.9,172.2 L681.5,172.4 L682.2,172.5 L682.8,172.7 L683.5,172.7 L684.2,172.8 L684.9,172.8 L685.5,172.8 L686.2,172.7 L686.9,172.7 L687.6,172.5 L688.2,172.4 L688.8,172.2 L689.3,172.0 L707.1,172.0 L707.3,172.2 L707.9,172.7 L708.5,173.1 L709.2,173.5 L709.9,173.9 L710.6,174.2 L711.3,174.4 L712.0,174.6 L712.8,174.8 L713.5,174.9 L714.3,174.9 L715.0,174.9 L715.8,174.8 L716.5,174.6 L717.2,174.4 L718.0,174.2 L718.7,173.9 L719.4,173.5 L720.0,173.1 L720.7,172.7 L721.3,172.2 L721.9,171.6 L722.4,171.0 L722.9,170.4 L723.4,169.7 L723.8,169.0 L724.2,168.2 L724.6,167.5 L724.9,166.7 L725.2,165.9 L725.4,165.0 L725.5,164.2 L725.7,163.3 L725.7,162.5 L725.8,161.6 L725.7,160.7 L725.7,159.9 L725.5,159.0 L725.4,158.2 L725.2,157.3 L724.9,156.5 L724.6,155.7 L724.2,154.9 L723.8,154.2 L723.4,153.5 L722.9,152.8 L722.4,152.2 L721.9,151.6 L721.3,151.0 L720.7,150.5 L720.0,150.1 L719.4,149.7 L718.7,149.3 L718.0,149.0 L717.2,148.8 L716.5,148.6 L715.8,148.4 L715.0,148.3 L714.3,148.3 L713.5,148.3 L712.8,148.4 L712.0,148.6 L711.3,148.8 L710.6,149.0 L709.9,149.3 L709.2,149.7 L708.5,150.1 L708.0,150.4 L707.9,150.1Z" fill="#dcdcdc" stroke="#2458ae" stroke-width="2.55" stroke-linejoin="round"/>
<path d="M712.9,159.3 L712.8,158.8 L712.6,158.3 L712.4,157.9 L712.2,157.5 L711.9,157.0 L711.7,156.6 L711.4,156.3 L711.0,155.9 L710.7,155.6 L710.3,155.3 L709.9,155.0 L709.5,154.7 L709.0,154.5 L708.6,154.3 L708.1,154.1 L707.7,154.0 L707.2,153.9 L706.7,153.8 L706.2,153.7 L705.7,153.7 L705.3,153.7 L704.8,153.8 L704.3,153.9 L703.8,154.0 L703.4,154.1 L702.9,154.3 L702.5,154.5 L702.0,154.7 L701.6,155.0 L701.2,155.3 L700.8,155.6 L700.5,155.9 L700.1,156.3 L699.8,156.6 L699.6,157.0 L699.3,157.5 L699.1,157.9 L698.9,158.3 L698.7,158.8 L698.6,159.3 L698.4,159.7 L698.4,160.0 L698.2,159.9 L697.7,159.7 L697.3,159.5 L696.8,159.4 L696.3,159.3 L695.8,159.2 L695.4,159.2 L694.9,159.2 L694.4,159.2 L693.9,159.2 L693.4,159.3 L692.9,159.4 L692.5,159.5 L692.0,159.7 L691.6,159.9 L691.1,160.1 L690.7,160.4 L690.3,160.7 L690.0,161.0 L689.6,161.3 L689.3,161.7 L689.0,162.1 L688.7,162.5 L688.4,162.9 L688.2,163.3 L688.0,163.7 L687.8,164.2 L687.7,164.7 L687.6,165.1 L687.5,165.6 L687.4,166.1 L687.4,166.6 L687.4,167.1 L687.5,167.6 L687.6,168.1 L687.7,168.5 L687.8,169.0 L688.0,169.5 L688.2,169.9 L688.4,170.3 L688.7,170.7 L689.0,171.1 L689.3,171.5 L689.6,171.9 L690.0,172.2 L690.3,172.5 L690.7,172.8 L691.1,173.1 L691.6,173.3 L692.0,173.5 L692.5,173.7 L692.9,173.8 L693.4,173.9 L693.9,174.0 L694.4,174.0 L694.9,174.1 L695.4,174.0 L695.8,174.0 L696.3,173.9 L696.8,173.8 L697.3,173.7 L697.7,173.5 L698.2,173.3 L698.6,173.1 L699.0,172.8 L699.4,172.5 L699.8,172.2 L700.1,171.9 L700.3,171.7 L701.2,172.3 L702.2,172.8 L703.2,173.4 L704.2,173.8 L705.3,174.2 L706.3,174.5 L707.4,174.8 L708.5,175.1 L709.5,175.2 L710.6,175.3 L711.6,175.3 L712.6,175.3 L712.6,175.3 L712.7,175.3 L713.2,175.4 L713.7,175.4 L714.3,175.4 L714.8,175.3 L715.3,175.2 L715.8,175.1 L716.3,175.0 L716.8,174.8 L717.2,174.6 L717.7,174.3 L718.1,174.1 L718.5,173.8 L718.9,173.4 L719.3,173.1 L719.7,172.7 L720.0,172.3 L720.3,171.9 L720.6,171.4 L720.8,171.0 L721.0,170.5 L721.2,170.0 L721.4,169.5 L721.5,169.0 L721.6,168.5 L721.6,168.0 L721.6,167.5 L721.6,167.0 L721.6,166.5 L721.5,166.0 L721.4,165.5 L721.2,165.0 L721.0,164.5 L720.8,164.0 L720.6,163.6 L720.3,163.1 L720.0,162.7 L719.7,162.3 L719.3,161.9 L718.9,161.6 L718.5,161.3 L718.1,161.0 L717.7,160.7 L717.2,160.4 L716.8,160.2 L716.3,160.0 L715.8,159.9 L715.3,159.8 L714.8,159.7 L714.3,159.6 L713.7,159.6 L713.2,159.6 L713.0,159.7Z" fill="#ffffff" stroke="#2458ae" stroke-width="2.55" stroke-linejoin="round"/><path d="M713.3,159.8 Q709.6,161.0 707.6,164.9" fill="none" stroke="#2458ae" stroke-width="2.55" stroke-linecap="round"/>
<line x1="695.17" y1="178.40" x2="692.57" y2="193.10" stroke="#3f74c4" stroke-width="2.6"/>
<line x1="702.27" y1="179.10" x2="700.17" y2="190.60" stroke="#3f74c4" stroke-width="2.6"/>
<text x="680.19" y="221.00" font-size="25.97" fill="#cc0000" textLength="40.67" lengthAdjust="spacingAndGlyphs">17°</text>
<text x="680.19" y="249.00" font-size="25.97" fill="#1e90ff" textLength="40.67" lengthAdjust="spacingAndGlyphs">14°</text>
<text x="765.07" y="107.00" font-size="20.65" fill="#000000" textLength="27.74" lengthAdjust="spacingAndGlyphs">tor</text>
<text x="751.16" y="129.20" font-size="20.65" fill="#000000" textLength="54.90" lengthAdjust="spacingAndGlyphs">21.10</text>
<path d="M786.9,149.5 L786.6,149.0 L786.2,148.5 L785.8,148.0 L785.4,147.5 L784.9,147.1 L784.5,146.7 L783.9,146.3 L783.4,146.0 L782.9,145.7 L782.3,145.4 L781.7,145.2 L781.1,145.0 L780.5,144.9 L779.9,144.8 L779.2,144.7 L778.6,144.7 L778.0,144.7 L777.4,144.8 L776.7,144.9 L776.1,145.0 L775.5,145.2 L774.9,145.4 L774.4,145.7 L773.8,146.0 L773.3,146.3 L772.8,146.7 L772.3,147.1 L771.8,147.5 L771.4,148.0 L771.0,148.5 L770.6,149.0 L770.3,149.5 L770.0,150.1 L769.7,150.6 L769.5,151.2 L769.3,151.8 L769.2,152.4 L769.1,153.0 L769.0,153.7 L769.0,154.3 L769.0,154.9 L769.1,155.6 L769.2,156.2 L769.3,156.4 L768.8,156.2 L768.2,156.0 L767.6,155.8 L766.9,155.6 L766.2,155.5 L765.6,155.4 L764.9,155.3 L764.2,155.3 L763.5,155.3 L762.9,155.4 L762.2,155.5 L761.5,155.6 L760.9,155.8 L760.2,156.0 L759.6,156.2 L759.0,156.5 L758.4,156.8 L757.9,157.1 L757.4,157.5 L756.9,157.9 L756.4,158.3 L756.0,158.7 L755.6,159.2 L755.2,159.7 L754.9,160.2 L754.6,160.7 L754.4,161.3 L754.2,161.8 L754.0,162.4 L753.9,162.9 L753.8,163.5 L753.8,164.1 L753.8,164.6 L753.9,165.2 L754.0,165.8 L754.2,166.3 L754.4,166.9 L754.6,167.4 L754.9,167.9 L755.2,168.4 L755.6,168.9 L756.0,169.4 L756.4,169.8 L756.9,170.3 L757.4,170.6 L757.9,171.0 L758.4,171.3 L759.0,171.6 L759.6,171.9 L760.2,172.2 L760.9,172.4 L761.5,172.5 L762.2,172.7 L762.9,172.7 L763.5,172.8 L764.2,172.8 L764.9,172.8 L765.6,172.7 L766.2,172.7 L766.9,172.5 L767.6,172.4 L768.2,172.2 L768.6,172.0 L786.5,172.0 L786.6,172.2 L787.2,172.7 L787.9,173.1 L788.5,173.5 L789.2,173.9 L789.9,174.2 L790.6,174.4 L791.4,174.6 L792.1,174.8 L792.9,174.9 L793.6,174.9 L794.4,174.9 L795.1,174.8 L795.9,174.6 L796.6,174.4 L797.3,174.2 L798.0,173.9 L798.7,173.5 L799.4,173.1 L800.0,172.7 L800.6,172.2 L801.2,171.6 L801.7,171.0 L802.3,170.4 L802.7,169.7 L803.2,169.0 L803.6,168.2 L803.9,167.5 L804.2,166.7 L804.5,165.9 L804.7,165.0 L804.9,164.2 L805.0,163.3 L805.1,162.5 L805.1,161.6 L805.1,160.7 L805.0,159.9 L804.9,159.0 L804.7,158.2 L804.5,157.3 L804.2,156.5 L803.9,155.7 L803.6,154.9 L803.2,154.2 L802.7,153.5 L802.3,152.8 L801.7,152.2 L801.2,151.6 L800.6,151.0 L800.0,150.5 L799.4,150.1 L798.7,149.7 L798.0,149.3 L797.3,149.0 L796.6,148.8 L795.9,148.6 L795.1,148.4 L794.4,148.3 L793.6,148.3 L792.9,148.3 L792.1,148.4 L791.4,148.6 L790.6,148.8 L789.9,149.0 L789.2,149.3 L788.5,149.7 L787.9,150.1 L787.4,150.4 L787.2,150.1Z" fill="#dcdcdc" stroke="#2458ae" stroke-width="2.55" stroke-linejoin="round"/>
<path d="M792.3,159.3 L792.2,158.8 L792.0,158.3 L791.8,157.9 L791.5,157.5 L791.3,157.0 L791.0,156.6 L790.7,156.3 L790.4,155.9 L790.0,155.6 L789.6,155.3 L789.2,155.0 L788.8,154.7 L788.4,154.5 L787.9,154.3 L787.5,154.1 L787.0,154.0 L786.5,153.9 L786.1,153.8 L785.6,153.7 L785.1,153.7 L784.6,153.7 L784.1,153.8 L783.6,153.9 L783.2,154.0 L782.7,154.1 L782.2,154.3 L781.8,154.5 L781.4,154.7 L781.0,155.0 L780.6,155.3 L780.2,155.6 L779.8,155.9 L779.5,156.3 L779.2,156.6 L778.9,157.0 L778.6,157.5 L778.4,157.9 L778.2,158.3 L778.0,158.8 L777.9,159.3 L777.8,159.7 L777.7,160.0 L777.5,159.9 L777.1,159.7 L776.6,159.5 L776.1,159.4 L775.7,159.3 L775.2,159.2 L774.7,159.2 L774.2,159.2 L773.7,159.2 L773.2,159.2 L772.8,159.3 L772.3,159.4 L771.8,159.5 L771.4,159.7 L770.9,159.9 L770.5,160.1 L770.1,160.4 L769.7,160.7 L769.3,161.0 L768.9,161.3 L768.6,161.7 L768.3,162.1 L768.0,162.5 L767.8,162.9 L767.5,163.3 L767.3,163.7 L767.2,164.2 L767.0,164.7 L766.9,165.1 L766.8,165.6 L766.8,166.1 L766.8,166.6 L766.8,167.1 L766.8,167.6 L766.9,168.1 L767.0,168.5 L767.2,169.0 L767.3,169.5 L767.5,169.9 L767.8,170.3 L768.0,170.7 L768.3,171.1 L768.6,171.5 L768.9,171.9 L769.3,172.2 L769.7,172.5 L770.1,172.8 L770.5,173.1 L770.9,173.3 L771.4,173.5 L771.8,173.7 L772.3,173.8 L772.8,173.9 L773.2,174.0 L773.7,174.0 L774.2,174.1 L774.7,174.0 L775.2,174.0 L775.7,173.9 L776.1,173.8 L776.6,173.7 L777.1,173.5 L777.5,173.3 L777.9,173.1 L778.4,172.8 L778.8,172.5 L779.1,172.2 L779.5,171.9 L779.6,171.7 L780.5,172.3 L781.5,172.8 L782.6,173.4 L783.6,173.8 L784.6,174.2 L785.7,174.5 L786.7,174.8 L787.8,175.1 L788.9,175.2 L789.9,175.3 L791.0,175.3 L792.0,175.3 L792.0,175.3 L792.1,175.3 L792.6,175.4 L793.1,175.4 L793.6,175.4 L794.1,175.3 L794.6,175.2 L795.1,175.1 L795.6,175.0 L796.1,174.8 L796.6,174.6 L797.0,174.3 L797.5,174.1 L797.9,173.8 L798.3,173.4 L798.7,173.1 L799.0,172.7 L799.3,172.3 L799.6,171.9 L799.9,171.4 L800.2,171.0 L800.4,170.5 L800.5,170.0 L800.7,169.5 L800.8,169.0 L800.9,168.5 L800.9,168.0 L801.0,167.5 L800.9,167.0 L800.9,166.5 L800.8,166.0 L800.7,165.5 L800.5,165.0 L800.4,164.5 L800.2,164.0 L799.9,163.6 L799.6,163.1 L799.3,162.7 L799.0,162.3 L798.7,161.9 L798.3,161.6 L797.9,161.3 L797.5,161.0 L797.0,160.7 L796.6,160.4 L796.1,160.2 L795.6,160.0 L795.1,159.9 L794.6,159.8 L794.1,159.7 L793.6,159.6 L793.1,159.6 L792.6,159.6 L792.4,159.7Z" fill="#ffffff" stroke="#2458ae" stroke-width="2.55" stroke-linejoin="round"/><path d="M792.7,159.8 Q788.9,161.0 786.9,164.9" fill="none" stroke="#2458ae" stroke-width="2.55" stroke-linecap="round"/>
<line x1="770.22" y1="178.40" x2="768.42" y2="189.60" stroke="#3f74c4" stroke-width="2.6"/>
<line x1="776.62" y1="177.70" x2="774.82" y2="192.40" stroke="#3f74c4" stroke-width="2.6"/>
<line x1="783.42" y1="178.40" x2="781.72" y2="189.20" stroke="#3f74c4" stroke-width="2.6"/>
<line x1="790.62" y1="178.10" x2="788.82" y2="188.50" stroke="#3f74c4" stroke-width="2.6"/>
<text x="759.04" y="221.00" font-size="25.97" fill="#cc0000" textLength="40.67" lengthAdjust="spacingAndGlyphs">17°</text>
<text x="759.04" y="249.00" font-size="25.97" fill="#1e90ff" textLength="40.67" lengthAdjust="spacingAndGlyphs">16°</text>
<text x="842.88" y="107.00" font-size="20.65" fill="#000000" textLength="29.53" lengthAdjust="spacingAndGlyphs">sre</text>
<text x="829.96" y="129.20" font-size="20.65" fill="#000000" textLength="54.90" lengthAdjust="spacingAndGlyphs">22.10</text>
<path d="M865.8,149.5 L865.4,149.0 L865.1,148.5 L864.7,148.0 L864.2,147.5 L863.8,147.1 L863.3,146.7 L862.8,146.3 L862.3,146.0 L861.7,145.7 L861.1,145.4 L860.5,145.2 L859.9,145.0 L859.3,144.9 L858.7,144.8 L858.1,144.7 L857.5,144.7 L856.8,144.7 L856.2,144.8 L855.6,144.9 L855.0,145.0 L854.4,145.2 L853.8,145.4 L853.2,145.7 L852.7,146.0 L852.1,146.3 L851.6,146.7 L851.1,147.1 L850.7,147.5 L850.2,148.0 L849.8,148.5 L849.5,149.0 L849.1,149.5 L848.9,150.1 L848.6,150.6 L848.4,151.2 L848.2,151.8 L848.0,152.4 L847.9,153.0 L847.9,153.7 L847.9,154.3 L847.9,154.9 L847.9,155.6 L848.0,156.2 L848.1,156.4 L847.7,156.2 L847.0,156.0 L846.4,155.8 L845.8,155.6 L845.1,155.5 L844.4,155.4 L843.7,155.3 L843.1,155.3 L842.4,155.3 L841.7,155.4 L841.0,155.5 L840.4,155.6 L839.7,155.8 L839.1,156.0 L838.5,156.2 L837.9,156.5 L837.3,156.8 L836.7,157.1 L836.2,157.5 L835.7,157.9 L835.2,158.3 L834.8,158.7 L834.4,159.2 L834.1,159.7 L833.7,160.2 L833.5,160.7 L833.2,161.3 L833.0,161.8 L832.9,162.4 L832.8,162.9 L832.7,163.5 L832.7,164.1 L832.7,164.6 L832.8,165.2 L832.9,165.8 L833.0,166.3 L833.2,166.9 L833.5,167.4 L833.7,167.9 L834.1,168.4 L834.4,168.9 L834.8,169.4 L835.2,169.8 L835.7,170.3 L836.2,170.6 L836.7,171.0 L837.3,171.3 L837.9,171.6 L838.5,171.9 L839.1,172.2 L839.7,172.4 L840.4,172.5 L841.0,172.7 L841.7,172.7 L842.4,172.8 L843.1,172.8 L843.7,172.8 L844.4,172.7 L845.1,172.7 L845.8,172.5 L846.4,172.4 L847.0,172.2 L847.4,172.0 L865.3,172.0 L865.5,172.2 L866.1,172.7 L866.7,173.1 L867.4,173.5 L868.1,173.9 L868.8,174.2 L869.5,174.4 L870.2,174.6 L871.0,174.8 L871.7,174.9 L872.5,174.9 L873.2,174.9 L874.0,174.8 L874.7,174.6 L875.4,174.4 L876.2,174.2 L876.9,173.9 L877.5,173.5 L878.2,173.1 L878.9,172.7 L879.5,172.2 L880.0,171.6 L880.6,171.0 L881.1,170.4 L881.6,169.7 L882.0,169.0 L882.4,168.2 L882.8,167.5 L883.1,166.7 L883.4,165.9 L883.6,165.0 L883.7,164.2 L883.9,163.3 L883.9,162.5 L884.0,161.6 L883.9,160.7 L883.9,159.9 L883.7,159.0 L883.6,158.2 L883.4,157.3 L883.1,156.5 L882.8,155.7 L882.4,154.9 L882.0,154.2 L881.6,153.5 L881.1,152.8 L880.6,152.2 L880.0,151.6 L879.5,151.0 L878.9,150.5 L878.2,150.1 L877.5,149.7 L876.9,149.3 L876.2,149.0 L875.4,148.8 L874.7,148.6 L874.0,148.4 L873.2,148.3 L872.5,148.3 L871.7,148.3 L871.0,148.4 L870.2,148.6 L869.5,148.8 L868.8,149.0 L868.1,149.3 L867.4,149.7 L866.7,150.1 L866.2,150.4 L866.1,150.1Z" fill="#dcdcdc" stroke="#2458ae" stroke-width="2.55" stroke-linejoin="round"/>
<path d="M871.1,159.3 L871.0,158.8 L870.8,158.3 L870.6,157.9 L870.4,157.5 L870.1,157.0 L869.9,156.6 L869.5,156.3 L869.2,155.9 L868.9,155.6 L868.5,155.3 L868.1,155.0 L867.7,154.7 L867.2,154.5 L866.8,154.3 L866.3,154.1 L865.9,154.0 L865.4,153.9 L864.9,153.8 L864.4,153.7 L863.9,153.7 L863.5,153.7 L863.0,153.8 L862.5,153.9 L862.0,154.0 L861.5,154.1 L861.1,154.3 L860.6,154.5 L860.2,154.7 L859.8,155.0 L859.4,155.3 L859.0,155.6 L858.7,155.9 L858.3,156.3 L858.0,156.6 L857.7,157.0 L857.5,157.5 L857.3,157.9 L857.1,158.3 L856.9,158.8 L856.7,159.3 L856.6,159.7 L856.6,160.0 L856.4,159.9 L855.9,159.7 L855.5,159.5 L855.0,159.4 L854.5,159.3 L854.0,159.2 L853.5,159.2 L853.1,159.2 L852.6,159.2 L852.1,159.2 L851.6,159.3 L851.1,159.4 L850.7,159.5 L850.2,159.7 L849.8,159.9 L849.3,160.1 L848.9,160.4 L848.5,160.7 L848.1,161.0 L847.8,161.3 L847.5,161.7 L847.2,162.1 L846.9,162.5 L846.6,162.9 L846.4,163.3 L846.2,163.7 L846.0,164.2 L845.9,164.7 L845.8,165.1 L845.7,165.6 L845.6,166.1 L845.6,166.6 L845.6,167.1 L845.7,167.6 L845.8,168.1 L845.9,168.5 L846.0,169.0 L846.2,169.5 L846.4,169.9 L846.6,170.3 L846.9,170.7 L847.2,171.1 L847.5,171.5 L847.8,171.9 L848.1,172.2 L848.5,172.5 L848.9,172.8 L849.3,173.1 L849.8,173.3 L850.2,173.5 L850.7,173.7 L851.1,173.8 L851.6,173.9 L852.1,174.0 L852.6,174.0 L853.1,174.1 L853.5,174.0 L854.0,174.0 L854.5,173.9 L855.0,173.8 L855.5,173.7 L855.9,173.5 L856.4,173.3 L856.8,173.1 L857.2,172.8 L857.6,172.5 L858.0,172.2 L858.3,171.9 L858.5,171.7 L859.4,172.3 L860.4,172.8 L861.4,173.4 L862.4,173.8 L863.5,174.2 L864.5,174.5 L865.6,174.8 L866.7,175.1 L867.7,175.2 L868.8,175.3 L869.8,175.3 L870.8,175.3 L870.8,175.3 L870.9,175.3 L871.4,175.4 L871.9,175.4 L872.4,175.4 L873.0,175.3 L873.5,175.2 L874.0,175.1 L874.5,175.0 L874.9,174.8 L875.4,174.6 L875.9,174.3 L876.3,174.1 L876.7,173.8 L877.1,173.4 L877.5,173.1 L877.9,172.7 L878.2,172.3 L878.5,171.9 L878.8,171.4 L879.0,171.0 L879.2,170.5 L879.4,170.0 L879.5,169.5 L879.7,169.0 L879.7,168.5 L879.8,168.0 L879.8,167.5 L879.8,167.0 L879.7,166.5 L879.7,166.0 L879.5,165.5 L879.4,165.0 L879.2,164.5 L879.0,164.0 L878.8,163.6 L878.5,163.1 L878.2,162.7 L877.9,162.3 L877.5,161.9 L877.1,161.6 L876.7,161.3 L876.3,161.0 L875.9,160.7 L875.4,160.4 L874.9,160.2 L874.5,160.0 L874.0,159.9 L873.5,159.8 L873.0,159.7 L872.4,159.6 L871.9,159.6 L871.4,159.6 L871.2,159.7Z" fill="#ffffff" stroke="#2458ae" stroke-width="2.55" stroke-linejoin="round"/><path d="M871.5,159.8 Q867.8,161.0 865.8,164.9" fill="none" stroke="#2458ae" stroke-width="2.55" stroke-linecap="round"/>
<line x1="849.06" y1="178.40" x2="847.26" y2="189.60" stroke="#3f74c4" stroke-width="2.6"/>
<line x1="855.46" y1="177.70" x2="853.66" y2="192.40" stroke="#3f74c4" stroke-width="2.6"/>
<line x1="862.26" y1="178.40" x2="860.56" y2="189.20" stroke="#3f74c4" stroke-width="2.6"/>
<line x1="869.46" y1="178.10" x2="867.66" y2="188.50" stroke="#3f74c4" stroke-width="2.6"/>
<text x="837.88" y="221.00" font-size="25.97" fill="#cc0000" textLength="40.67" lengthAdjust="spacingAndGlyphs">17°</text>
<text x="837.88" y="249.00" font-size="25.97" fill="#1e90ff" textLength="40.67" lengthAdjust="spacingAndGlyphs">15°</text>
<text x="921.24" y="107.00" font-size="20.65" fill="#000000" textLength="29.85" lengthAdjust="spacingAndGlyphs">čet</text>
<text x="908.75" y="129.20" font-size="20.65" fill="#000000" textLength="54.90" lengthAdjust="spacingAndGlyphs">23.10</text>
<line x1="954.51" y1="158.70" x2="963.24" y2="160.40" stroke="#70708c" stroke-opacity="0.5" stroke-width="4.8"/><line x1="949.86" y1="165.72" x2="954.84" y2="173.10" stroke="#70708c" stroke-opacity="0.5" stroke-width="4.8"/><line x1="941.42" y1="167.36" x2="939.57" y2="176.07" stroke="#70708c" stroke-opacity="0.5" stroke-width="4.8"/><line x1="934.09" y1="161.93" x2="926.30" y2="166.25" stroke="#70708c" stroke-opacity="0.5" stroke-width="4.8"/><line x1="933.03" y1="153.94" x2="924.40" y2="151.79" stroke="#70708c" stroke-opacity="0.5" stroke-width="4.8"/><line x1="938.37" y1="146.98" x2="934.06" y2="139.20" stroke="#70708c" stroke-opacity="0.5" stroke-width="4.8"/><line x1="946.18" y1="145.88" x2="948.18" y2="137.21" stroke="#70708c" stroke-opacity="0.5" stroke-width="4.8"/><line x1="953.14" y1="150.93" x2="960.77" y2="146.35" stroke="#70708c" stroke-opacity="0.5" stroke-width="4.8"/><line x1="952.54" y1="158.32" x2="962.75" y2="160.30" stroke="#f0e81c" stroke-width="3.5"/><line x1="948.74" y1="164.06" x2="954.56" y2="172.68" stroke="#f0e81c" stroke-width="3.5"/><line x1="941.84" y1="165.40" x2="939.67" y2="175.58" stroke="#f0e81c" stroke-width="3.5"/><line x1="935.84" y1="160.96" x2="926.74" y2="166.01" stroke="#f0e81c" stroke-width="3.5"/><line x1="934.98" y1="154.42" x2="924.88" y2="151.91" stroke="#f0e81c" stroke-width="3.5"/><line x1="939.34" y1="148.73" x2="934.30" y2="139.63" stroke="#f0e81c" stroke-width="3.5"/><line x1="945.73" y1="147.83" x2="948.07" y2="137.70" stroke="#f0e81c" stroke-width="3.5"/><line x1="951.42" y1="151.96" x2="960.34" y2="146.61" stroke="#f0e81c" stroke-width="3.5"/><circle cx="943.71" cy="156.60" r="9.6" fill="#f0e81c" stroke="#f7b52a" stroke-width="1.1"/>
<path d="M938.9,162.4 L938.8,161.9 L938.6,161.5 L938.4,161.1 L938.2,160.7 L938.0,160.3 L937.7,159.9 L937.4,159.6 L937.1,159.2 L936.8,158.9 L936.5,158.6 L936.1,158.3 L935.7,158.1 L935.3,157.9 L934.9,157.7 L934.5,157.5 L934.1,157.4 L933.6,157.3 L933.2,157.2 L932.8,157.2 L932.3,157.2 L931.9,157.2 L931.4,157.2 L931.0,157.3 L930.6,157.4 L930.1,157.5 L929.7,157.7 L929.3,157.9 L928.9,158.1 L928.5,158.3 L928.2,158.6 L927.8,158.9 L927.5,159.2 L927.2,159.6 L926.9,159.9 L926.6,160.3 L926.4,160.7 L926.2,161.1 L926.0,161.5 L925.9,161.9 L925.7,162.4 L925.6,162.8 L925.6,163.1 L925.4,163.0 L925.0,162.8 L924.6,162.7 L924.1,162.5 L923.7,162.4 L923.2,162.3 L922.8,162.3 L922.4,162.3 L921.9,162.3 L921.5,162.3 L921.0,162.4 L920.6,162.5 L920.2,162.7 L919.8,162.8 L919.3,163.0 L919.0,163.2 L918.6,163.5 L918.2,163.7 L917.9,164.0 L917.5,164.3 L917.2,164.7 L917.0,165.0 L916.7,165.4 L916.5,165.8 L916.2,166.2 L916.1,166.6 L915.9,167.1 L915.8,167.5 L915.7,167.9 L915.6,168.4 L915.6,168.9 L915.5,169.3 L915.6,169.8 L915.6,170.2 L915.7,170.7 L915.8,171.1 L915.9,171.6 L916.1,172.0 L916.2,172.4 L916.5,172.8 L916.7,173.2 L917.0,173.6 L917.2,174.0 L917.5,174.3 L917.9,174.6 L918.2,174.9 L918.6,175.2 L919.0,175.4 L919.3,175.6 L919.8,175.8 L920.2,176.0 L920.6,176.1 L921.0,176.2 L921.5,176.3 L921.9,176.3 L922.4,176.4 L922.8,176.3 L923.2,176.3 L923.7,176.2 L924.1,176.1 L924.6,176.0 L925.0,175.8 L925.4,175.6 L925.8,175.4 L926.1,175.2 L926.5,174.9 L926.9,174.6 L927.2,174.3 L927.3,174.2 L928.1,174.7 L929.1,175.2 L930.0,175.7 L930.9,176.1 L931.9,176.5 L932.9,176.8 L933.8,177.1 L934.8,177.3 L935.8,177.5 L936.7,177.6 L937.7,177.6 L938.6,177.5 L938.6,177.5 L938.7,177.6 L939.2,177.6 L939.6,177.6 L940.1,177.6 L940.6,177.6 L941.0,177.5 L941.5,177.4 L941.9,177.2 L942.4,177.1 L942.8,176.9 L943.2,176.6 L943.6,176.4 L944.0,176.1 L944.4,175.8 L944.7,175.4 L945.0,175.1 L945.3,174.7 L945.6,174.3 L945.9,173.9 L946.1,173.5 L946.3,173.0 L946.5,172.6 L946.6,172.1 L946.7,171.6 L946.8,171.2 L946.8,170.7 L946.8,170.2 L946.8,169.7 L946.8,169.2 L946.7,168.7 L946.6,168.3 L946.5,167.8 L946.3,167.3 L946.1,166.9 L945.9,166.5 L945.6,166.0 L945.3,165.6 L945.0,165.3 L944.7,164.9 L944.4,164.6 L944.0,164.3 L943.6,164.0 L943.2,163.7 L942.8,163.5 L942.4,163.3 L941.9,163.1 L941.5,163.0 L941.0,162.9 L940.6,162.8 L940.1,162.7 L939.6,162.7 L939.2,162.7 L939.0,162.8Z" fill="#dcdcdc" stroke="#2458ae" stroke-width="2.55" stroke-linejoin="round"/><path d="M939.2,162.8 Q935.8,164.0 934.0,167.7" fill="none" stroke="#2458ae" stroke-width="2.55" stroke-linecap="round"/>
<line x1="920.01" y1="180.60" x2="918.21" y2="192.10" stroke="#3f74c4" stroke-width="2.6"/>
<line x1="926.11" y1="178.80" x2="924.31" y2="193.90" stroke="#3f74c4" stroke-width="2.6"/>
<line x1="932.21" y1="181.70" x2="930.41" y2="192.50" stroke="#3f74c4" stroke-width="2.6"/>
<line x1="939.41" y1="178.80" x2="936.91" y2="193.90" stroke="#3f74c4" stroke-width="2.6"/>
<text x="916.73" y="221.00" font-size="25.97" fill="#cc0000" textLength="40.67" lengthAdjust="spacingAndGlyphs">17°</text>
<text x="916.73" y="249.00" font-size="25.97" fill="#1e90ff" textLength="40.67" lengthAdjust="spacingAndGlyphs">14°</text>
<text x="999.41" y="107.00" font-size="20.65" fill="#000000" textLength="31.31" lengthAdjust="spacingAndGlyphs">pet</text>
<text x="987.55" y="129.20" font-size="20.65" fill="#000000" textLength="54.90" lengthAdjust="spacingAndGlyphs">24.10</text>
<line x1="1018.15" y1="159.00" x2="1026.89" y2="160.70" stroke="#70708c" stroke-opacity="0.5" stroke-width="4.8"/><line x1="1013.50" y1="166.02" x2="1018.48" y2="173.40" stroke="#70708c" stroke-opacity="0.5" stroke-width="4.8"/><line x1="1005.07" y1="167.66" x2="1003.22" y2="176.37" stroke="#70708c" stroke-opacity="0.5" stroke-width="4.8"/><line x1="997.73" y1="162.23" x2="989.95" y2="166.55" stroke="#70708c" stroke-opacity="0.5" stroke-width="4.8"/><line x1="996.68" y1="154.24" x2="988.04" y2="152.09" stroke="#70708c" stroke-opacity="0.5" stroke-width="4.8"/><line x1="1002.02" y1="147.28" x2="997.71" y2="139.50" stroke="#70708c" stroke-opacity="0.5" stroke-width="4.8"/><line x1="1009.83" y1="146.18" x2="1011.83" y2="137.51" stroke="#70708c" stroke-opacity="0.5" stroke-width="4.8"/><line x1="1016.78" y1="151.23" x2="1024.41" y2="146.65" stroke="#70708c" stroke-opacity="0.5" stroke-width="4.8"/><line x1="1016.19" y1="158.62" x2="1026.40" y2="160.60" stroke="#f0e81c" stroke-width="3.5"/><line x1="1012.39" y1="164.36" x2="1018.20" y2="172.98" stroke="#f0e81c" stroke-width="3.5"/><line x1="1005.48" y1="165.70" x2="1003.32" y2="175.88" stroke="#f0e81c" stroke-width="3.5"/><line x1="999.48" y1="161.26" x2="990.39" y2="166.31" stroke="#f0e81c" stroke-width="3.5"/><line x1="998.62" y1="154.72" x2="988.53" y2="152.21" stroke="#f0e81c" stroke-width="3.5"/><line x1="1002.99" y1="149.03" x2="997.95" y2="139.93" stroke="#f0e81c" stroke-width="3.5"/><line x1="1009.38" y1="148.13" x2="1011.72" y2="138.00" stroke="#f0e81c" stroke-width="3.5"/><line x1="1015.07" y1="152.26" x2="1023.98" y2="146.91" stroke="#f0e81c" stroke-width="3.5"/><circle cx="1007.35" cy="156.90" r="9.6" fill="#f0e81c" stroke="#f7b52a" stroke-width="1.1"/>
<path d="M1018.3,158.5 L1018.4,158.0 L1018.6,157.5 L1018.8,157.1 L1019.0,156.7 L1019.3,156.2 L1019.6,155.8 L1019.9,155.5 L1020.2,155.1 L1020.6,154.8 L1020.9,154.5 L1021.3,154.2 L1021.7,153.9 L1022.2,153.7 L1022.6,153.5 L1023.1,153.3 L1023.5,153.2 L1024.0,153.1 L1024.5,153.0 L1025.0,152.9 L1025.5,152.9 L1026.0,152.9 L1026.4,153.0 L1026.9,153.1 L1027.4,153.2 L1027.9,153.3 L1028.3,153.5 L1028.8,153.7 L1029.2,153.9 L1029.6,154.2 L1030.0,154.5 L1030.4,154.8 L1030.7,155.1 L1031.1,155.5 L1031.4,155.8 L1031.7,156.2 L1031.9,156.7 L1032.2,157.1 L1032.4,157.5 L1032.5,158.0 L1032.7,158.5 L1032.8,158.9 L1032.8,159.2 L1033.1,159.1 L1033.5,158.9 L1034.0,158.7 L1034.4,158.6 L1034.9,158.5 L1035.4,158.4 L1035.9,158.4 L1036.4,158.4 L1036.8,158.4 L1037.3,158.4 L1037.8,158.5 L1038.3,158.6 L1038.7,158.7 L1039.2,158.9 L1039.6,159.1 L1040.1,159.3 L1040.5,159.6 L1040.9,159.9 L1041.3,160.2 L1041.6,160.5 L1042.0,160.9 L1042.3,161.3 L1042.5,161.7 L1042.8,162.1 L1043.0,162.5 L1043.2,162.9 L1043.4,163.4 L1043.5,163.9 L1043.7,164.3 L1043.7,164.8 L1043.8,165.3 L1043.8,165.8 L1043.8,166.3 L1043.7,166.8 L1043.7,167.3 L1043.5,167.7 L1043.4,168.2 L1043.2,168.7 L1043.0,169.1 L1042.8,169.5 L1042.5,169.9 L1042.3,170.3 L1042.0,170.7 L1041.6,171.1 L1041.3,171.4 L1040.9,171.7 L1040.5,172.0 L1040.1,172.3 L1039.6,172.5 L1039.2,172.7 L1038.7,172.9 L1038.3,173.0 L1037.8,173.1 L1037.3,173.2 L1036.8,173.2 L1036.4,173.2 L1035.9,173.2 L1035.4,173.2 L1034.9,173.1 L1034.4,173.0 L1034.0,172.9 L1033.5,172.7 L1033.1,172.5 L1032.6,172.3 L1032.2,172.0 L1031.8,171.7 L1031.4,171.4 L1031.1,171.1 L1030.9,170.9 L1030.0,171.5 L1029.0,172.0 L1028.0,172.6 L1027.0,173.0 L1025.9,173.4 L1024.9,173.7 L1023.8,174.0 L1022.8,174.3 L1021.7,174.4 L1020.7,174.5 L1019.6,174.5 L1018.6,174.5 L1018.6,174.5 L1018.5,174.5 L1018.0,174.6 L1017.5,174.6 L1017.0,174.6 L1016.5,174.5 L1015.9,174.4 L1015.4,174.3 L1015.0,174.2 L1014.5,174.0 L1014.0,173.8 L1013.5,173.5 L1013.1,173.3 L1012.7,173.0 L1012.3,172.6 L1011.9,172.3 L1011.6,171.9 L1011.2,171.5 L1010.9,171.1 L1010.7,170.6 L1010.4,170.2 L1010.2,169.7 L1010.0,169.2 L1009.9,168.7 L1009.8,168.2 L1009.7,167.7 L1009.6,167.2 L1009.6,166.7 L1009.6,166.2 L1009.7,165.7 L1009.8,165.2 L1009.9,164.7 L1010.0,164.2 L1010.2,163.7 L1010.4,163.2 L1010.7,162.8 L1010.9,162.3 L1011.2,161.9 L1011.6,161.5 L1011.9,161.1 L1012.3,160.8 L1012.7,160.5 L1013.1,160.2 L1013.5,159.9 L1014.0,159.6 L1014.5,159.4 L1015.0,159.2 L1015.4,159.1 L1015.9,159.0 L1016.5,158.9 L1017.0,158.8 L1017.5,158.8 L1018.0,158.8 L1018.2,158.9Z" fill="#ffffff" stroke="#2458ae" stroke-width="2.55" stroke-linejoin="round"/><path d="M1017.9,158.9 Q1021.7,160.2 1023.7,164.1" fill="none" stroke="#2458ae" stroke-width="2.55" stroke-linecap="round"/>
<line x1="1022.05" y1="178.10" x2="1019.55" y2="193.10" stroke="#3f74c4" stroke-width="2.6"/>
<line x1="1028.45" y1="178.40" x2="1026.65" y2="189.60" stroke="#3f74c4" stroke-width="2.6"/>
<text x="995.58" y="221.00" font-size="25.97" fill="#cc0000" textLength="40.67" lengthAdjust="spacingAndGlyphs">17°</text>
<text x="995.58" y="249.00" font-size="25.97" fill="#1e90ff" textLength="40.67" lengthAdjust="spacingAndGlyphs">14°</text>
<text x="1077.14" y="107.00" font-size="20.65" fill="#cc0000" textLength="33.70" lengthAdjust="spacingAndGlyphs">sob</text>
<text x="1066.34" y="129.20" font-size="20.65" fill="#cc0000" textLength="54.90" lengthAdjust="spacingAndGlyphs">25.10</text>
<line x1="1101.10" y1="158.60" x2="1109.83" y2="160.30" stroke="#70708c" stroke-opacity="0.5" stroke-width="4.8"/><line x1="1096.45" y1="165.62" x2="1101.43" y2="173.00" stroke="#70708c" stroke-opacity="0.5" stroke-width="4.8"/><line x1="1088.01" y1="167.26" x2="1086.16" y2="175.97" stroke="#70708c" stroke-opacity="0.5" stroke-width="4.8"/><line x1="1080.68" y1="161.83" x2="1072.90" y2="166.15" stroke="#70708c" stroke-opacity="0.5" stroke-width="4.8"/><line x1="1079.63" y1="153.84" x2="1070.99" y2="151.69" stroke="#70708c" stroke-opacity="0.5" stroke-width="4.8"/><line x1="1084.97" y1="146.88" x2="1080.65" y2="139.10" stroke="#70708c" stroke-opacity="0.5" stroke-width="4.8"/><line x1="1092.77" y1="145.78" x2="1094.78" y2="137.11" stroke="#70708c" stroke-opacity="0.5" stroke-width="4.8"/><line x1="1099.73" y1="150.83" x2="1107.36" y2="146.25" stroke="#70708c" stroke-opacity="0.5" stroke-width="4.8"/><line x1="1099.13" y1="158.22" x2="1109.34" y2="160.20" stroke="#f0e81c" stroke-width="3.5"/><line x1="1095.33" y1="163.96" x2="1101.15" y2="172.58" stroke="#f0e81c" stroke-width="3.5"/><line x1="1088.43" y1="165.30" x2="1086.27" y2="175.48" stroke="#f0e81c" stroke-width="3.5"/><line x1="1082.43" y1="160.86" x2="1073.33" y2="165.91" stroke="#f0e81c" stroke-width="3.5"/><line x1="1081.57" y1="154.32" x2="1071.48" y2="151.81" stroke="#f0e81c" stroke-width="3.5"/><line x1="1085.94" y1="148.63" x2="1080.89" y2="139.53" stroke="#f0e81c" stroke-width="3.5"/><line x1="1092.32" y1="147.73" x2="1094.66" y2="137.60" stroke="#f0e81c" stroke-width="3.5"/><line x1="1098.01" y1="151.86" x2="1106.93" y2="146.51" stroke="#f0e81c" stroke-width="3.5"/><circle cx="1090.30" cy="156.50" r="9.6" fill="#f0e81c" stroke="#f7b52a" stroke-width="1.1"/>
<path d="M1109.6,161.6 L1109.5,161.3 L1109.3,160.9 L1109.2,160.6 L1109.0,160.2 L1108.8,159.9 L1108.6,159.6 L1108.4,159.3 L1108.1,159.0 L1107.8,158.8 L1107.6,158.5 L1107.3,158.3 L1107.0,158.1 L1106.6,157.9 L1106.3,157.8 L1106.0,157.6 L1105.6,157.5 L1105.3,157.4 L1104.9,157.4 L1104.5,157.3 L1104.2,157.3 L1103.8,157.3 L1103.4,157.4 L1103.1,157.4 L1102.7,157.5 L1102.4,157.6 L1102.0,157.8 L1101.7,157.9 L1101.4,158.1 L1101.1,158.3 L1100.8,158.5 L1100.5,158.8 L1100.2,159.0 L1100.0,159.3 L1099.7,159.6 L1099.5,159.9 L1099.3,160.2 L1099.1,160.6 L1099.0,160.9 L1098.9,161.3 L1098.8,161.6 L1098.7,162.0 L1098.6,162.3 L1098.5,162.2 L1098.1,162.0 L1097.8,161.9 L1097.4,161.8 L1097.1,161.7 L1096.7,161.6 L1096.4,161.6 L1096.0,161.6 L1095.6,161.6 L1095.3,161.6 L1094.9,161.7 L1094.6,161.8 L1094.2,161.9 L1093.9,162.0 L1093.5,162.2 L1093.2,162.3 L1092.9,162.5 L1092.6,162.8 L1092.3,163.0 L1092.0,163.3 L1091.8,163.5 L1091.6,163.8 L1091.4,164.1 L1091.2,164.5 L1091.0,164.8 L1090.8,165.2 L1090.7,165.5 L1090.6,165.9 L1090.5,166.2 L1090.5,166.6 L1090.4,167.0 L1090.4,167.4 L1090.4,167.8 L1090.5,168.1 L1090.5,168.5 L1090.6,168.9 L1090.7,169.2 L1090.8,169.6 L1091.0,169.9 L1091.2,170.3 L1091.4,170.6 L1091.6,170.9 L1091.8,171.2 L1092.0,171.5 L1092.3,171.7 L1092.6,172.0 L1092.9,172.2 L1093.2,172.4 L1093.5,172.6 L1093.9,172.7 L1094.2,172.9 L1094.6,173.0 L1094.9,173.1 L1095.3,173.1 L1095.6,173.2 L1096.0,173.2 L1096.4,173.2 L1096.7,173.1 L1097.1,173.1 L1097.4,173.0 L1097.8,172.9 L1098.1,172.7 L1098.5,172.6 L1098.8,172.4 L1099.1,172.2 L1099.4,172.0 L1099.7,171.7 L1100.0,171.5 L1100.1,171.4 L1100.7,171.8 L1101.5,172.2 L1102.3,172.6 L1103.0,173.0 L1103.8,173.3 L1104.6,173.6 L1105.4,173.8 L1106.2,174.0 L1107.0,174.1 L1107.8,174.2 L1108.6,174.2 L1109.3,174.2 L1109.3,174.2 L1109.4,174.2 L1109.8,174.2 L1110.2,174.2 L1110.5,174.2 L1110.9,174.2 L1111.3,174.1 L1111.7,174.0 L1112.1,173.9 L1112.4,173.8 L1112.8,173.6 L1113.1,173.4 L1113.4,173.2 L1113.8,173.0 L1114.0,172.7 L1114.3,172.4 L1114.6,172.1 L1114.8,171.8 L1115.1,171.5 L1115.3,171.2 L1115.5,170.8 L1115.6,170.4 L1115.7,170.1 L1115.9,169.7 L1115.9,169.3 L1116.0,168.9 L1116.0,168.5 L1116.1,168.1 L1116.0,167.7 L1116.0,167.3 L1115.9,166.9 L1115.9,166.5 L1115.7,166.1 L1115.6,165.7 L1115.5,165.4 L1115.3,165.0 L1115.1,164.7 L1114.8,164.3 L1114.6,164.0 L1114.3,163.7 L1114.0,163.5 L1113.8,163.2 L1113.4,163.0 L1113.1,162.8 L1112.8,162.6 L1112.4,162.4 L1112.1,162.3 L1111.7,162.1 L1111.3,162.1 L1110.9,162.0 L1110.5,162.0 L1110.2,161.9 L1109.8,162.0 L1109.6,162.0Z" fill="#ffffff" stroke="#2458ae" stroke-width="2.4" stroke-linejoin="round"/><path d="M1109.8,162.0 Q1107.0,163.0 1105.5,166.1" fill="none" stroke="#2458ae" stroke-width="2.4" stroke-linecap="round"/>
<text x="1074.42" y="221.00" font-size="25.97" fill="#cc0000" textLength="40.67" lengthAdjust="spacingAndGlyphs">17°</text>
<text x="1074.42" y="249.00" font-size="25.97" fill="#1e90ff" textLength="40.67" lengthAdjust="spacingAndGlyphs">13°</text>
<text x="579.60" y="407.80" font-size="23.8" fill="#000000" text-anchor="middle" >Temperatura (°C)</text>
<g clip-path="url(#clipT)">
<defs><clipPath id="clipT"><rect x="69.5" y="417.5" width="1025.0" height="197.0"/></clipPath></defs>
<polygon points="69.50,558.60 148.35,565.00 227.19,539.30 306.04,539.50 384.88,546.25 463.73,564.25 542.58,549.50 621.42,535.00 700.27,500.50 779.12,487.50 857.96,503.00 936.81,503.75 1015.65,497.50 1094.50,505.00 1094.50,582.00 1015.65,574.25 936.81,567.50 857.96,557.00 779.12,546.25 700.27,565.50 621.42,582.50 542.58,583.75 463.73,586.25 384.88,566.25 306.04,558.00 227.19,550.00 148.35,575.40 69.50,569.20" fill="#4a86e8" fill-opacity="0.4"/>
<polygon points="69.50,450.90 148.35,453.30 227.19,456.60 306.04,464.50 384.88,475.50 463.73,474.50 542.58,472.00 621.42,469.50 700.27,467.00 779.12,463.75 857.96,473.75 936.81,468.00 1015.65,456.25 1094.50,461.25 1094.50,538.75 1015.65,533.00 936.81,532.50 857.96,527.50 779.12,523.75 700.27,531.25 621.42,518.00 542.58,507.00 463.73,497.00 384.88,496.25 306.04,483.50 227.19,466.30 148.35,463.00 69.50,460.80" fill="#32cd32" fill-opacity="0.4"/>
<rect x="69.5" y="586" width="1025.0" height="2" fill="#000" fill-opacity="0.155"/>
<rect x="69.5" y="523" width="1025.0" height="2" fill="#000" fill-opacity="0.155"/>
<rect x="69.5" y="460" width="1025.0" height="2" fill="#000" fill-opacity="0.155"/>
<rect x="226" y="417.5" width="2" height="197.0" fill="#000" fill-opacity="0.155"/>
<rect x="384" y="417.5" width="2" height="197.0" fill="#000" fill-opacity="0.155"/>
<rect x="542" y="417.5" width="2" height="197.0" fill="#000" fill-opacity="0.155"/>
<rect x="699" y="417.5" width="2" height="197.0" fill="#000" fill-opacity="0.155"/>
<rect x="857" y="417.5" width="2" height="197.0" fill="#000" fill-opacity="0.155"/>
<rect x="1015" y="417.5" width="2" height="197.0" fill="#000" fill-opacity="0.155"/>
<polyline points="69.50,455.75 148.35,457.90 227.19,461.75 306.04,473.00 384.88,485.75 463.73,485.50 542.58,489.50 621.42,493.00 700.27,499.25 779.12,493.75 857.96,502.00 936.81,500.00 1015.65,493.75 1094.50,500.50" fill="none" stroke="#ff0000" stroke-width="5.4" stroke-linejoin="round"/>
<polyline points="69.50,564.00 148.35,570.50 227.19,544.00 306.04,548.75 384.88,555.75 463.73,575.00 542.58,566.50 621.42,559.25 700.27,533.00 779.12,517.00 857.96,530.00 936.81,535.00 1015.65,535.75 1094.50,543.25" fill="none" stroke="#1e90ff" stroke-width="5.4" stroke-linejoin="round"/>
</g>
<text x="853.80" y="483.40" font-size="18.4" fill="#0000ff" text-anchor="middle" textLength="208.8" lengthAdjust="spacingAndGlyphs">© vreme.us &amp; vreme.pro</text>
<line x1="69.5" y1="612.50" x2="74.5" y2="612.50" stroke="#3c3c3c" stroke-width="1"/>
<line x1="69.5" y1="600.50" x2="74.5" y2="600.50" stroke="#3c3c3c" stroke-width="1"/>
<line x1="69.5" y1="574.50" x2="74.5" y2="574.50" stroke="#3c3c3c" stroke-width="1"/>
<line x1="69.5" y1="562.50" x2="74.5" y2="562.50" stroke="#3c3c3c" stroke-width="1"/>
<line x1="69.5" y1="549.50" x2="74.5" y2="549.50" stroke="#3c3c3c" stroke-width="1"/>
<line x1="69.5" y1="537.50" x2="74.5" y2="537.50" stroke="#3c3c3c" stroke-width="1"/>
<line x1="69.5" y1="512.50" x2="74.5" y2="512.50" stroke="#3c3c3c" stroke-width="1"/>
<line x1="69.5" y1="499.50" x2="74.5" y2="499.50" stroke="#3c3c3c" stroke-width="1"/>
<line x1="69.5" y1="486.50" x2="74.5" y2="486.50" stroke="#3c3c3c" stroke-width="1"/>
<line x1="69.5" y1="474.50" x2="74.5" y2="474.50" stroke="#3c3c3c" stroke-width="1"/>
<line x1="69.5" y1="449.50" x2="74.5" y2="449.50" stroke="#3c3c3c" stroke-width="1"/>
<line x1="69.5" y1="436.50" x2="74.5" y2="436.50" stroke="#3c3c3c" stroke-width="1"/>
<line x1="69.5" y1="424.50" x2="74.5" y2="424.50" stroke="#3c3c3c" stroke-width="1"/>
<rect x="69.5" y="417.5" width="1025.0" height="197.0" fill="none" stroke="#262626" stroke-width="1"/>
<text x="40.37" y="594.70" font-size="20.65" fill="#000" textLength="23.77" lengthAdjust="spacingAndGlyphs">10</text>
<text x="40.40" y="531.83" font-size="20.65" fill="#000" textLength="23.39" lengthAdjust="spacingAndGlyphs">15</text>
<text x="40.20" y="468.95" font-size="20.65" fill="#000" textLength="23.95" lengthAdjust="spacingAndGlyphs">20</text>
<text x="577.90" y="667.60" font-size="23.8" fill="#000000" text-anchor="middle" >Količina padavin (mm) / Možnost padavin (%)</text>
<text x="51.53" y="693.00" font-size="20.65" fill="#000" textLength="35.91" lengthAdjust="spacingAndGlyphs">ned</text>
<text x="130.41" y="693.00" font-size="20.65" fill="#000" textLength="35.92" lengthAdjust="spacingAndGlyphs">pon</text>
<text x="213.52" y="693.00" font-size="20.65" fill="#000" textLength="27.74" lengthAdjust="spacingAndGlyphs">tor</text>
<text x="291.34" y="693.00" font-size="20.65" fill="#000" textLength="29.53" lengthAdjust="spacingAndGlyphs">sre</text>
<text x="369.71" y="693.00" font-size="20.65" fill="#000" textLength="29.85" lengthAdjust="spacingAndGlyphs">čet</text>
<text x="447.88" y="693.00" font-size="20.65" fill="#000" textLength="31.31" lengthAdjust="spacingAndGlyphs">pet</text>
<text x="525.63" y="693.00" font-size="20.65" fill="#000" textLength="33.70" lengthAdjust="spacingAndGlyphs">sob</text>
<text x="603.17" y="693.00" font-size="20.65" fill="#000" textLength="35.91" lengthAdjust="spacingAndGlyphs">ned</text>
<text x="682.05" y="693.00" font-size="20.65" fill="#000" textLength="35.92" lengthAdjust="spacingAndGlyphs">pon</text>
<text x="765.16" y="693.00" font-size="20.65" fill="#000" textLength="27.74" lengthAdjust="spacingAndGlyphs">tor</text>
<text x="842.98" y="693.00" font-size="20.65" fill="#000" textLength="29.53" lengthAdjust="spacingAndGlyphs">sre</text>
<text x="921.35" y="693.00" font-size="20.65" fill="#000" textLength="29.85" lengthAdjust="spacingAndGlyphs">čet</text>
<text x="999.53" y="693.00" font-size="20.65" fill="#000" textLength="31.31" lengthAdjust="spacingAndGlyphs">pet</text>
<text x="1077.27" y="693.00" font-size="20.65" fill="#000" textLength="33.70" lengthAdjust="spacingAndGlyphs">sob</text>
<defs><clipPath id="clipP"><rect x="69.5" y="700.5" width="1025.0" height="197.0"/></clipPath></defs>
<g clip-path="url(#clipP)">
<rect x="69.5" y="852" width="1025.0" height="2" fill="#000" fill-opacity="0.155"/>
<rect x="69.5" y="809" width="1025.0" height="2" fill="#000" fill-opacity="0.155"/>
<rect x="69.5" y="765" width="1025.0" height="2" fill="#000" fill-opacity="0.155"/>
<rect x="69.5" y="721" width="1025.0" height="2" fill="#000" fill-opacity="0.155"/>
<rect x="226" y="700.5" width="2" height="197.0" fill="#000" fill-opacity="0.155"/>
<rect x="384" y="700.5" width="2" height="197.0" fill="#000" fill-opacity="0.155"/>
<rect x="542" y="700.5" width="2" height="197.0" fill="#000" fill-opacity="0.155"/>
<rect x="699" y="700.5" width="2" height="197.0" fill="#000" fill-opacity="0.155"/>
<rect x="857" y="700.5" width="2" height="197.0" fill="#000" fill-opacity="0.155"/>
<rect x="1015" y="700.5" width="2" height="197.0" fill="#000" fill-opacity="0.155"/>
<rect x="358" y="896.0" width="53" height="1.5" fill="#0050ff"/>
<rect x="437" y="833" width="53" height="64.5" fill="#0050ff"/>
<rect x="674" y="893.9" width="52" height="3.6000000000000227" fill="#0050ff"/>
<rect x="753" y="832" width="52" height="65.5" fill="#0050ff"/>
<rect x="832" y="833" width="52" height="64.5" fill="#0050ff"/>
<rect x="910" y="865" width="53" height="32.5" fill="#0050ff"/>
<rect x="989" y="857" width="53" height="40.5" fill="#0050ff"/>
<rect x="59.3" y="895.9" width="20.4" height="1.1" fill="#5a5a5a"/>
<rect x="138.3" y="895.9" width="20.4" height="1.1" fill="#5a5a5a"/>
<rect x="217.3" y="895.9" width="20.4" height="1.1" fill="#5a5a5a"/>
<rect x="296.3" y="895.9" width="20.4" height="1.1" fill="#5a5a5a"/>
<rect x="374.3" y="895.2" width="20.4" height="1.1" fill="#5a5a5a"/>
<rect x="462.0" y="815.5" width="3" height="37.0" fill="#808080"/>
<rect x="453.3" y="814.0" width="20.4" height="3" fill="#808080"/>
<rect x="453.3" y="851.0" width="20.4" height="3" fill="#808080"/>
<rect x="532.3" y="895.9" width="20.4" height="1.1" fill="#5a5a5a"/>
<rect x="611.3" y="895.9" width="20.4" height="1.1" fill="#5a5a5a"/>
<rect x="699.0" y="829.5" width="3" height="69.5" fill="#808080"/>
<rect x="690.3" y="828.0" width="20.4" height="3" fill="#808080"/>
<rect x="778.0" y="747.5" width="3" height="151.5" fill="#808080"/>
<rect x="769.3" y="746.0" width="20.4" height="3" fill="#808080"/>
<rect x="857.0" y="713.5" width="3" height="185.5" fill="#808080"/>
<rect x="848.3" y="712.0" width="20.4" height="3" fill="#808080"/>
<rect x="936.0" y="822.5" width="3" height="76.5" fill="#808080"/>
<rect x="927.3" y="821.0" width="20.4" height="3" fill="#808080"/>
<rect x="1015.0" y="796.5" width="3" height="102.5" fill="#808080"/>
<rect x="1006.3" y="795.0" width="20.4" height="3" fill="#808080"/>
<rect x="1084.3" y="895.9" width="20.4" height="1.1" fill="#5a5a5a"/>
</g>
<rect x="69.5" y="700.5" width="1025.0" height="197.0" fill="none" stroke="#262626" stroke-width="1"/>
<text x="40.32" y="717.70" font-size="20.65" fill="#000" textLength="23.82" lengthAdjust="spacingAndGlyphs">40</text>
<text x="40.54" y="773.60" font-size="20.65" fill="#000" textLength="23.60" lengthAdjust="spacingAndGlyphs">30</text>
<text x="40.20" y="816.80" font-size="20.65" fill="#000" textLength="23.95" lengthAdjust="spacingAndGlyphs">20</text>
<text x="40.37" y="860.60" font-size="20.65" fill="#000" textLength="23.77" lengthAdjust="spacingAndGlyphs">10</text>
<text x="52.71" y="892.90" font-size="20.65" fill="#000" textLength="11.40" lengthAdjust="spacingAndGlyphs">0</text>
<text x="51.59" y="926.70" font-size="25.97" fill="#4fd6e1" textLength="36.23" lengthAdjust="spacingAndGlyphs">5%</text>
<text x="130.19" y="926.70" font-size="25.97" fill="#4fd6e1" textLength="36.48" lengthAdjust="spacingAndGlyphs">0%</text>
<text x="209.03" y="926.70" font-size="25.97" fill="#4fd6e1" textLength="36.48" lengthAdjust="spacingAndGlyphs">0%</text>
<text x="287.88" y="926.70" font-size="25.97" fill="#4fd6e1" textLength="36.48" lengthAdjust="spacingAndGlyphs">0%</text>
<text x="359.08" y="926.70" font-size="25.97" fill="#2896cd" textLength="51.66" lengthAdjust="spacingAndGlyphs">25%</text>
<text x="438.13" y="926.70" font-size="25.97" fill="#4fd6e1" textLength="51.45" lengthAdjust="spacingAndGlyphs">10%</text>
<text x="524.67" y="926.70" font-size="25.97" fill="#4fd6e1" textLength="36.23" lengthAdjust="spacingAndGlyphs">5%</text>
<text x="595.62" y="926.70" font-size="25.97" fill="#2896cd" textLength="51.66" lengthAdjust="spacingAndGlyphs">25%</text>
<text x="674.59" y="926.70" font-size="25.97" fill="#2896cd" textLength="51.53" lengthAdjust="spacingAndGlyphs">45%</text>
<text x="753.21" y="926.70" font-size="25.97" fill="#0a5ab4" textLength="51.76" lengthAdjust="spacingAndGlyphs">65%</text>
<text x="832.34" y="926.70" font-size="25.97" fill="#0a5ab4" textLength="51.47" lengthAdjust="spacingAndGlyphs">75%</text>
<text x="911.36" y="926.70" font-size="25.97" fill="#0a5ab4" textLength="51.29" lengthAdjust="spacingAndGlyphs">55%</text>
<text x="989.98" y="926.70" font-size="25.97" fill="#2896cd" textLength="51.53" lengthAdjust="spacingAndGlyphs">45%</text>
<text x="1068.82" y="926.70" font-size="25.97" fill="#2896cd" textLength="51.53" lengthAdjust="spacingAndGlyphs">45%</text>
</svg>
</body></html>
